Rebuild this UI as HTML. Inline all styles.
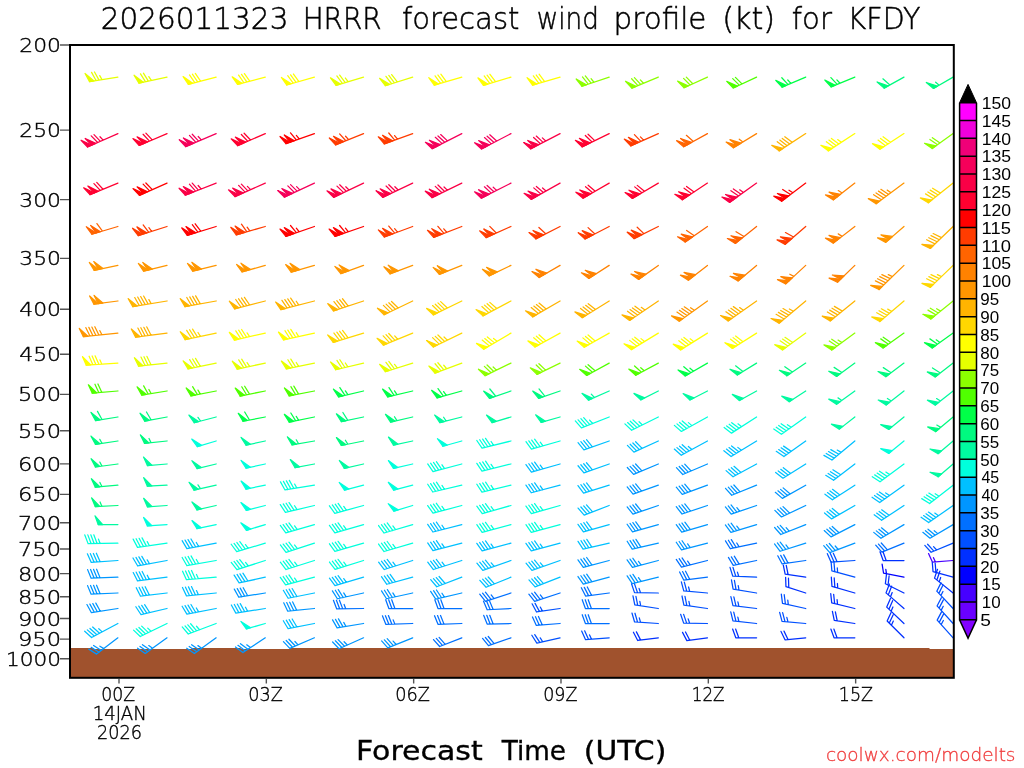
<!DOCTYPE html><html><head><meta charset="utf-8"><title>HRRR wind profile KFDY</title>
<style>html,body{margin:0;padding:0;background:#fff;}svg{display:block;}</style></head><body>
<svg width="1024" height="768" viewBox="0 0 1024 768">
<rect width="1024" height="768" fill="#fff"/>
<path d="M70.5 648H93.3V649H191.6V648H240.8V649H289.9V648H929.5V649H953V677.8H70.5Z" fill="#a0522d"/>
<g fill="none" stroke-width="1.25" stroke-linecap="round" stroke-linejoin="round">
<path d="M117.9 77.1L89.55 81.59M102 79.62L99.77 75.6M99.04 80.09L94.53 71.95M96.07 80.56L91.56 72.42" stroke="#e6ff00"/><path d="M94 80.89L89.55 81.59L85.04 73.46Z" fill="#e6ff00" stroke="#e6ff00"/>
<path d="M167.03 77.1L138.96 83.07M151.28 80.45L148.84 76.55M148.35 81.07L143.42 73.18M145.41 81.69L140.48 73.81" stroke="#e6ff00"/><path d="M143.36 82.13L138.96 83.07L134.03 75.18Z" fill="#e6ff00" stroke="#e6ff00"/>
<path d="M216.16 77.1L188.37 84.29M200.57 81.13L195.31 73.47M197.67 81.88L192.4 74.22M194.76 82.63L189.5 74.97" stroke="#ffff00"/><path d="M192.73 83.16L188.37 84.29L183.11 76.62Z" fill="#ffff00" stroke="#ffff00"/>
<path d="M265.29 77.1L237.54 84.43M249.72 81.21L244.42 73.58M246.82 81.98L241.52 74.34M243.92 82.75L238.62 75.11" stroke="#ffff00"/><path d="M241.89 83.28L237.54 84.43L232.23 76.79Z" fill="#ffff00" stroke="#ffff00"/>
<path d="M314.42 77.1L286.83 85.01M298.94 81.54L293.48 74.01M296.06 82.36L290.59 74.84M293.18 83.19L287.71 75.67" stroke="#ffff00"/><path d="M291.16 83.77L286.83 85.01L281.37 77.49Z" fill="#ffff00" stroke="#ffff00"/>
<path d="M363.55 77.1L336.05 85.3M348.12 81.7L345.38 78.01M345.25 82.56L339.7 75.09M342.37 83.41L336.83 75.95" stroke="#e6ff00"/><path d="M340.36 84.01L336.05 85.3L330.5 77.83Z" fill="#e6ff00" stroke="#e6ff00"/>
<path d="M412.68 77.1L385.31 85.73M397.33 81.94L391.66 74.56M394.46 82.84L388.8 75.47M391.6 83.75L385.94 76.37" stroke="#e6ff00"/><path d="M389.6 84.38L385.31 85.73L379.65 78.35Z" fill="#e6ff00" stroke="#e6ff00"/>
<path d="M461.81 77.1L434.28 85.2M446.37 81.65L440.85 74.16M443.49 82.49L437.97 75.01M440.61 83.34L435.09 75.85" stroke="#ffff00"/><path d="M438.59 83.93L434.28 85.2L428.76 77.72Z" fill="#ffff00" stroke="#ffff00"/>
<path d="M510.94 77.1L483.45 85.35M495.52 81.73L489.96 74.27M492.65 82.59L487.09 75.13M489.77 83.45L484.21 75.99" stroke="#ffff00"/><path d="M487.76 84.05L483.45 85.35L477.89 77.89Z" fill="#ffff00" stroke="#ffff00"/>
<path d="M560.07 77.1L532.54 85.2M544.63 81.65L539.11 74.16M541.75 82.49L536.23 75.01M538.87 83.34L533.35 75.85" stroke="#ffff00"/><path d="M536.85 83.93L532.54 85.2L527.02 77.72Z" fill="#ffff00" stroke="#ffff00"/>
<path d="M609.2 77.1L582 86.25M593.94 82.24L591.07 78.64M591.1 83.19L585.3 75.92M588.25 84.15L582.45 76.88" stroke="#8cff00"/><path d="M586.26 84.82L582 86.25L576.2 78.99Z" fill="#8cff00" stroke="#8cff00"/>
<path d="M658.33 77.1L631.83 88.13M643.47 83.29L640.35 79.9M640.7 84.44L634.4 77.59M637.93 85.59L631.63 78.75" stroke="#8cff00"/><path d="M635.99 86.4L631.83 88.13L625.54 81.28Z" fill="#8cff00" stroke="#8cff00"/>
<path d="M707.46 77.1L684.07 87.76M692.81 83.78L686.29 77.14M690.08 85.02L683.56 78.39" stroke="#8cff00"/><path d="M688.17 85.89L684.07 87.76L677.56 81.12Z" fill="#8cff00" stroke="#8cff00"/>
<path d="M756.59 77.1L733.3 87.96M742 83.9L735.42 77.33M739.28 85.17L732.7 78.6" stroke="#50ff00"/><path d="M737.38 86.06L733.3 87.96L726.72 81.39Z" fill="#50ff00" stroke="#50ff00"/>
<path d="M805.72 77.1L782.06 87.14M790.9 83.39L787.76 80.03M788.14 84.56L781.8 77.76" stroke="#00ff48"/><path d="M786.21 85.38L782.06 87.14L775.72 80.34Z" fill="#00ff48" stroke="#00ff48"/>
<path d="M854.85 77.1L831.11 86.93M839.98 83.26L836.87 79.87M837.2 84.41L830.92 77.55" stroke="#00ff48"/><path d="M835.26 85.21L831.11 86.93L824.82 80.08Z" fill="#00ff48" stroke="#00ff48"/>
<path d="M903.98 77.1L884.13 88.11M889.9 84.91L882.88 78.8" stroke="#00fa80"/><path d="M888.06 85.92L884.13 88.11L877.11 82Z" fill="#00fa80" stroke="#00fa80"/>
<path d="M953.11 77.1L933.45 88.45M939.17 85.15L935.64 82.19" stroke="#00fa80"/><path d="M937.35 86.2L933.45 88.45L926.33 82.47Z" fill="#00fa80" stroke="#00fa80"/>
<path d="M117.9 133.6L87.52 147M103.17 140.1L99.99 136.78M100.42 141.31L93.99 134.6M97.68 142.52L91.24 135.81" stroke="#fa0046"/><path d="M95.76 143.37L91.64 145.18L85.2 138.47Z" fill="#fa0046" stroke="#fa0046"/><path d="M91.64 145.18L87.52 147L81.09 140.29Z" fill="#fa0046" stroke="#fa0046"/>
<path d="M167.03 133.6L139.25 145.45M152.22 139.92L145.87 133.13M149.46 141.09L143.11 134.3" stroke="#ff0030"/><path d="M147.53 141.92L143.39 143.68L137.04 136.89Z" fill="#ff0030" stroke="#ff0030"/><path d="M143.39 143.68L139.25 145.45L132.9 138.66Z" fill="#ff0030" stroke="#ff0030"/>
<path d="M216.16 133.6L185.6 146.57M201.34 139.89L198.2 136.53M198.58 141.06L192.24 134.26M195.82 142.24L189.47 135.43" stroke="#f5005a"/><path d="M193.88 143.06L189.74 144.81L183.4 138.01Z" fill="#f5005a" stroke="#f5005a"/><path d="M189.74 144.81L185.6 146.57L179.26 139.77Z" fill="#f5005a" stroke="#f5005a"/>
<path d="M265.29 133.6L237.59 145.64M250.53 140.02L244.12 133.27M247.77 141.22L241.37 134.47" stroke="#ff0030"/><path d="M245.85 142.05L241.72 143.85L235.32 137.1Z" fill="#ff0030" stroke="#ff0030"/><path d="M241.72 143.85L237.59 145.64L231.19 138.9Z" fill="#ff0030" stroke="#ff0030"/>
<path d="M314.42 133.6L285.95 143.68M299.24 138.97L296.32 135.42M296.42 139.98L290.5 132.8" stroke="#ff0000"/><path d="M294.44 140.68L290.19 142.18L284.28 135Z" fill="#ff0000" stroke="#ff0000"/><path d="M290.19 142.18L285.95 143.68L280.04 136.5Z" fill="#ff0000" stroke="#ff0000"/>
<path d="M363.55 133.6L335.55 144.91M348.62 139.63L345.54 136.21M345.84 140.75L339.62 133.84" stroke="#ff3c00"/><path d="M343.89 141.54L339.72 143.23L333.5 136.32Z" fill="#ff3c00" stroke="#ff3c00"/><path d="M339.72 143.23L335.55 144.91L329.33 138Z" fill="#ff3c00" stroke="#ff3c00"/>
<path d="M412.68 133.6L384.3 143.93M397.55 139.11L394.59 135.58M394.73 140.13L388.75 133.01" stroke="#ff3c00"/><path d="M392.76 140.85L388.53 142.39L382.55 135.27Z" fill="#ff3c00" stroke="#ff3c00"/><path d="M388.53 142.39L384.3 143.93L378.32 136.8Z" fill="#ff3c00" stroke="#ff3c00"/>
<path d="M461.81 133.6L432.23 148.67M447.46 140.91L440.66 134.57M444.79 142.27L437.99 135.93M442.12 143.63L435.32 137.29" stroke="#f5005a"/><path d="M440.25 144.59L436.24 146.63L429.44 140.29Z" fill="#f5005a" stroke="#f5005a"/><path d="M436.24 146.63L432.23 148.67L425.43 142.33Z" fill="#f5005a" stroke="#f5005a"/>
<path d="M510.94 133.6L481.52 148.98M496.67 141.06L489.8 134.79M494.01 142.45L487.15 136.18M491.35 143.84L484.49 137.57" stroke="#f5005a"/><path d="M489.49 144.81L485.51 146.9L478.64 140.63Z" fill="#f5005a" stroke="#f5005a"/><path d="M485.51 146.9L481.52 148.98L474.65 142.71Z" fill="#f5005a" stroke="#f5005a"/>
<path d="M560.07 133.6L530.57 148.83M545.76 140.98L542.38 137.86M543.1 142.36L536.26 136.05M540.43 143.74L533.6 137.43" stroke="#fa0046"/><path d="M538.57 144.7L534.57 146.76L527.73 140.46Z" fill="#fa0046" stroke="#fa0046"/><path d="M534.57 146.76L530.57 148.83L523.73 142.52Z" fill="#fa0046" stroke="#fa0046"/>
<path d="M609.2 133.6L582.06 146.84M594.73 140.66L588.04 134.2M592.03 141.97L585.34 135.51" stroke="#ff0030"/><path d="M590.15 142.89L586.1 144.87L579.41 138.41Z" fill="#ff0030" stroke="#ff0030"/><path d="M586.1 144.87L582.06 146.84L575.37 140.38Z" fill="#ff0030" stroke="#ff0030"/>
<path d="M658.33 133.6L630.74 145.88M643.62 140.15L640.43 136.84M640.88 141.37L634.42 134.68" stroke="#ff3c00"/><path d="M638.96 142.22L634.85 144.05L628.39 137.36Z" fill="#ff3c00" stroke="#ff3c00"/><path d="M634.85 144.05L630.74 145.88L624.28 139.19Z" fill="#ff3c00" stroke="#ff3c00"/>
<path d="M707.46 133.6L683.67 146.79M693.38 141.41L686.36 135.3" stroke="#ff6400"/><path d="M691.54 142.42L687.61 144.61L680.59 138.5Z" fill="#ff6400" stroke="#ff6400"/><path d="M687.61 144.61L683.67 146.79L676.65 140.69Z" fill="#ff6400" stroke="#ff6400"/>
<path d="M756.59 133.6L733.4 147.81M742.86 142.01L739.26 139.15" stroke="#ff8200"/><path d="M741.07 143.11L737.24 145.46L729.96 139.67Z" fill="#ff8200" stroke="#ff8200"/><path d="M737.24 145.46L733.4 147.81L726.12 142.02Z" fill="#ff8200" stroke="#ff8200"/>
<path d="M805.72 133.6L779.13 150.87M792.22 142.37L784.79 136.77M789.7 144L782.27 138.41M787.19 145.64L779.76 140.04M784.67 147.27L777.24 141.67" stroke="#ffb400"/><path d="M782.91 148.41L779.13 150.87L771.71 145.27Z" fill="#ffb400" stroke="#ffb400"/>
<path d="M854.85 133.6L828.26 150.87M841.35 142.37L837.67 139.6M838.83 144L831.4 138.41M836.32 145.64L828.89 140.04M833.8 147.27L826.37 141.67" stroke="#ffff00"/><path d="M832.04 148.41L828.26 150.87L820.84 145.27Z" fill="#ffff00" stroke="#ffff00"/>
<path d="M903.98 133.6L879.91 149.23M890.48 142.37L883.05 136.77M887.96 144L880.53 138.41M885.45 145.64L878.02 140.04" stroke="#ffff00"/><path d="M883.68 146.78L879.91 149.23L872.48 143.63Z" fill="#ffff00" stroke="#ffff00"/>
<path d="M953.11 133.6L932.21 148.56M940.02 142.97L932.35 137.72M937.58 144.72L929.91 139.46" stroke="#8cff00"/><path d="M935.87 145.94L932.21 148.56L924.54 143.31Z" fill="#8cff00" stroke="#8cff00"/>
<path d="M117.9 183.1L90 194.66M103.03 189.26L96.74 182.4M100.25 190.41L93.97 183.55" stroke="#ff0030"/><path d="M98.31 191.21L94.16 192.93L87.87 186.08Z" fill="#ff0030" stroke="#ff0030"/><path d="M94.16 192.93L90 194.66L83.72 187.8Z" fill="#ff0030" stroke="#ff0030"/>
<path d="M167.03 183.1L139.44 195.38M152.32 189.65L145.86 182.96M149.58 190.87L143.12 184.18" stroke="#ff0000"/><path d="M147.66 191.72L143.55 193.55L137.09 186.86Z" fill="#ff0000" stroke="#ff0000"/><path d="M143.55 193.55L139.44 195.38L132.98 188.69Z" fill="#ff0000" stroke="#ff0000"/>
<path d="M216.16 183.1L185.25 195.21M201.17 188.97L198.13 185.52M198.38 190.07L192.23 183.09M195.58 191.16L189.43 184.19" stroke="#fa0046"/><path d="M193.63 191.93L189.44 193.57L183.29 186.6Z" fill="#fa0046" stroke="#fa0046"/><path d="M189.44 193.57L185.25 195.21L179.1 188.24Z" fill="#fa0046" stroke="#fa0046"/>
<path d="M265.29 183.1L234.96 196.6M250.58 189.65L247.39 186.34M247.84 190.87L241.38 184.18M245.1 192.09L238.64 185.4" stroke="#fa0046"/><path d="M243.18 192.94L239.07 194.77L232.61 188.08Z" fill="#fa0046" stroke="#fa0046"/><path d="M239.07 194.77L234.96 196.6L228.5 189.91Z" fill="#fa0046" stroke="#fa0046"/>
<path d="M314.42 183.1L284.33 197.13M299.83 189.9L296.58 186.65M297.11 191.17L290.53 184.6M294.39 192.44L287.81 185.86" stroke="#f5005a"/><path d="M292.49 193.33L288.41 195.23L281.83 188.65Z" fill="#f5005a" stroke="#f5005a"/><path d="M288.41 195.23L284.33 197.13L277.75 190.55Z" fill="#f5005a" stroke="#f5005a"/>
<path d="M363.55 183.1L333.58 197.39M349.02 190.03L345.74 186.81M346.31 191.32L339.68 184.8M343.6 192.61L336.97 186.1" stroke="#fa0046"/><path d="M341.71 193.52L337.65 195.46L331.01 188.94Z" fill="#fa0046" stroke="#fa0046"/><path d="M337.65 195.46L333.58 197.39L326.95 190.87Z" fill="#fa0046" stroke="#fa0046"/>
<path d="M412.68 183.1L382.69 197.34M398.14 190.01L394.86 186.78M395.43 191.29L388.8 184.76M392.72 192.58L386.09 186.05" stroke="#fa0046"/><path d="M390.82 193.48L386.75 195.41L380.13 188.88Z" fill="#fa0046" stroke="#fa0046"/><path d="M386.75 195.41L382.69 197.34L376.07 190.81Z" fill="#fa0046" stroke="#fa0046"/>
<path d="M461.81 183.1L431.97 197.65M447.34 190.16L444.03 186.96M444.64 191.47L437.95 185.01M441.95 192.79L435.26 186.33" stroke="#fa0046"/><path d="M440.06 193.71L436.01 195.68L429.32 189.22Z" fill="#fa0046" stroke="#fa0046"/><path d="M436.01 195.68L431.97 197.65L425.28 191.19Z" fill="#fa0046" stroke="#fa0046"/>
<path d="M510.94 183.1L481.36 198.17M496.59 190.41L493.23 187.27M493.92 191.77L487.12 185.43M491.25 193.13L484.45 186.79" stroke="#f5005a"/><path d="M489.38 194.09L485.37 196.13L478.57 189.79Z" fill="#f5005a" stroke="#f5005a"/><path d="M485.37 196.13L481.36 198.17L474.56 191.83Z" fill="#f5005a" stroke="#f5005a"/>
<path d="M560.07 183.1L531.15 199.4M546.04 191L542.55 188.01M543.43 192.48L536.37 186.42M540.82 193.95L533.75 187.9" stroke="#fa0046"/><path d="M538.99 194.98L535.07 197.19L528 191.14Z" fill="#fa0046" stroke="#fa0046"/><path d="M535.07 197.19L531.15 199.4L524.08 193.35Z" fill="#fa0046" stroke="#fa0046"/>
<path d="M609.2 183.1L583.05 198.2M595.26 191.15L588.13 185.17M592.66 192.65L585.53 186.67" stroke="#ff0030"/><path d="M590.84 193.7L586.94 195.95L579.82 189.97Z" fill="#ff0030" stroke="#ff0030"/><path d="M586.94 195.95L583.05 198.2L575.92 192.22Z" fill="#ff0030" stroke="#ff0030"/>
<path d="M658.33 183.1L632.31 198.43M644.46 191.27L637.28 185.36M641.87 192.79L634.7 186.88" stroke="#ff0030"/><path d="M640.06 193.86L636.19 196.14L629.01 190.23Z" fill="#ff0030" stroke="#ff0030"/><path d="M636.19 196.14L632.31 198.43L625.13 192.51Z" fill="#ff0030" stroke="#ff0030"/>
<path d="M707.46 183.1L682.31 199.81M694.05 192.01L686.56 186.49M691.55 193.67L684.07 188.15" stroke="#ff0030"/><path d="M689.8 194.83L686.05 197.32L678.57 191.8Z" fill="#ff0030" stroke="#ff0030"/><path d="M686.05 197.32L682.31 199.81L674.82 194.29Z" fill="#ff0030" stroke="#ff0030"/>
<path d="M756.59 183.1L729.56 202.38M743.48 192.45L739.69 189.84M741.04 194.19L733.38 188.92M738.6 195.93L730.93 190.67" stroke="#fa0046"/><path d="M736.89 197.15L733.22 199.77L725.56 194.5Z" fill="#fa0046" stroke="#fa0046"/><path d="M733.22 199.77L729.56 202.38L721.9 197.11Z" fill="#fa0046" stroke="#fa0046"/>
<path d="M805.72 183.1L781.6 201.27M792.86 192.79L789 190.28M790.47 194.59L782.67 189.53" stroke="#ff0000"/><path d="M788.79 195.86L785.2 198.57L777.4 193.5Z" fill="#ff0000" stroke="#ff0000"/><path d="M785.2 198.57L781.6 201.27L773.8 196.21Z" fill="#ff0000" stroke="#ff0000"/>
<path d="M854.85 183.1L833.42 199.85M842.16 193.01L838.26 190.57" stroke="#ff8200"/><path d="M840.51 194.31L836.96 197.08L829.08 192.15Z" fill="#ff8200" stroke="#ff8200"/><path d="M836.96 197.08L833.42 199.85L825.53 194.92Z" fill="#ff8200" stroke="#ff8200"/>
<path d="M903.98 183.1L876.09 203.74M891.04 192.68L887.2 190.14M888.63 194.46L880.87 189.33M886.21 196.25L878.46 191.11M883.8 198.03L876.05 192.9M881.39 199.81L873.64 194.68" stroke="#ff9600"/><path d="M879.7 201.06L876.09 203.74L868.33 198.61Z" fill="#ff9600" stroke="#ff9600"/>
<path d="M953.11 183.1L928.3 202.83M940.51 193.12L932.58 188.26M938.16 194.99L930.23 190.13M935.81 196.86L927.88 192M933.47 198.73L925.54 193.87" stroke="#ffd700"/><path d="M931.82 200.03L928.3 202.83L920.37 197.97Z" fill="#ffd700" stroke="#ffd700"/>
<path d="M117.9 226.5L91.82 234.23M102.46 231.07L96.93 223.6" stroke="#ff6400"/><path d="M100.45 231.67L96.13 232.95L90.6 225.47Z" fill="#ff6400" stroke="#ff6400"/><path d="M96.13 232.95L91.82 234.23L86.29 226.75Z" fill="#ff6400" stroke="#ff6400"/>
<path d="M167.03 226.5L138.24 235.63M151.68 231.37L148.88 227.72M148.82 232.28L143.15 224.91" stroke="#ff3c00"/><path d="M146.82 232.91L142.53 234.27L136.86 226.9Z" fill="#ff3c00" stroke="#ff3c00"/><path d="M142.53 234.27L138.24 235.63L132.57 228.26Z" fill="#ff3c00" stroke="#ff3c00"/>
<path d="M216.16 226.5L187.28 235.33M200.76 231.21L195.17 223.78M197.89 232.08L192.3 224.66" stroke="#ff0000"/><path d="M195.89 232.7L191.58 234.01L185.99 226.59Z" fill="#ff0000" stroke="#ff0000"/><path d="M191.58 234.01L187.28 235.33L181.68 227.9Z" fill="#ff0000" stroke="#ff0000"/>
<path d="M265.29 226.5L236.26 234.82M249.81 230.94L247.11 227.22M246.93 231.76L241.46 224.24" stroke="#ff3c00"/><path d="M244.91 232.34L240.59 233.58L235.12 226.06Z" fill="#ff3c00" stroke="#ff3c00"/><path d="M240.59 233.58L236.26 234.82L230.79 227.3Z" fill="#ff3c00" stroke="#ff3c00"/>
<path d="M314.42 226.5L285.87 236.33M299.2 231.74L296.3 228.17M296.36 232.72L290.51 225.49" stroke="#ff0000"/><path d="M294.38 233.4L290.12 234.87L284.27 227.64Z" fill="#ff0000" stroke="#ff0000"/><path d="M290.12 234.87L285.87 236.33L280.01 229.1Z" fill="#ff0000" stroke="#ff0000"/>
<path d="M363.55 226.5L335 236.33M348.33 231.74L345.43 228.17M345.49 232.72L339.64 225.49" stroke="#ff0000"/><path d="M343.51 233.4L339.25 234.87L333.4 227.64Z" fill="#ff0000" stroke="#ff0000"/><path d="M339.25 234.87L335 236.33L329.14 229.1Z" fill="#ff0000" stroke="#ff0000"/>
<path d="M412.68 226.5L384.37 237.03M397.59 232.11L394.61 228.61M394.78 233.16L388.75 226.08" stroke="#ff3c00"/><path d="M392.81 233.89L388.59 235.46L382.56 228.38Z" fill="#ff3c00" stroke="#ff3c00"/><path d="M388.59 235.46L384.37 237.03L378.35 229.94Z" fill="#ff3c00" stroke="#ff3c00"/>
<path d="M461.81 226.5L433.62 237.32M446.78 232.27L443.76 228.8M443.98 233.34L437.88 226.33" stroke="#ff3c00"/><path d="M442.02 234.1L437.82 235.71L431.72 228.69Z" fill="#ff3c00" stroke="#ff3c00"/><path d="M437.82 235.71L433.62 237.32L427.51 230.3Z" fill="#ff3c00" stroke="#ff3c00"/>
<path d="M510.94 226.5L486.09 237.56M496.23 233.05L489.77 226.36" stroke="#ff3c00"/><path d="M494.31 233.9L490.2 235.73L483.74 229.04Z" fill="#ff3c00" stroke="#ff3c00"/><path d="M490.2 235.73L486.09 237.56L479.63 230.87Z" fill="#ff3c00" stroke="#ff3c00"/>
<path d="M560.07 226.5L535.83 238.85M545.72 233.81L538.92 227.47" stroke="#ff3c00"/><path d="M543.85 234.76L539.84 236.81L533.04 230.46Z" fill="#ff3c00" stroke="#ff3c00"/><path d="M539.84 236.81L535.83 238.85L529.03 232.51Z" fill="#ff3c00" stroke="#ff3c00"/>
<path d="M609.2 226.5L585.07 239.06M594.92 233.93L588.06 227.65" stroke="#ff3c00"/><path d="M593.06 234.9L589.06 236.98L582.21 230.7Z" fill="#ff3c00" stroke="#ff3c00"/><path d="M589.06 236.98L585.07 239.06L578.22 232.78Z" fill="#ff3c00" stroke="#ff3c00"/>
<path d="M658.33 226.5L633.97 238.59M643.91 233.66L637.17 227.25" stroke="#ff3c00"/><path d="M642.03 234.59L638 236.59L631.26 230.18Z" fill="#ff3c00" stroke="#ff3c00"/><path d="M638 236.59L633.97 238.59L627.23 232.18Z" fill="#ff3c00" stroke="#ff3c00"/>
<path d="M707.46 226.5L685.18 242.1M694.27 235.73L686.65 230.4" stroke="#ff6400"/><path d="M692.55 236.94L688.87 239.52L681.25 234.19Z" fill="#ff6400" stroke="#ff6400"/><path d="M688.87 239.52L685.18 242.1L677.56 236.77Z" fill="#ff6400" stroke="#ff6400"/>
<path d="M756.59 226.5L735.3 243.43M743.99 236.52L736.06 231.66" stroke="#ff6400"/><path d="M742.35 237.83L738.82 240.63L730.9 235.77Z" fill="#ff6400" stroke="#ff6400"/><path d="M738.82 240.63L735.3 243.43L727.37 238.57Z" fill="#ff6400" stroke="#ff6400"/>
<path d="M805.72 226.5L785.19 244.34M793.57 237.06L785.44 232.55" stroke="#ff3c00"/><path d="M791.98 238.44L788.59 241.39L780.45 236.88Z" fill="#ff3c00" stroke="#ff3c00"/><path d="M788.59 241.39L785.19 244.34L777.06 239.84Z" fill="#ff3c00" stroke="#ff3c00"/>
<path d="M854.85 226.5L833.33 243.13M842.11 236.35L838.22 233.89" stroke="#ff8200"/><path d="M840.45 237.63L836.89 240.38L829.03 235.41Z" fill="#ff8200" stroke="#ff8200"/><path d="M836.89 240.38L833.33 243.13L825.47 238.16Z" fill="#ff8200" stroke="#ff8200"/>
<path d="M903.98 226.5L885.72 242.38" stroke="#ff9600"/><path d="M892.51 236.47L889.11 239.42L880.98 234.92Z" fill="#ff9600" stroke="#ff9600"/><path d="M889.11 239.42L885.72 242.38L877.58 237.87Z" fill="#ff9600" stroke="#ff9600"/>
<path d="M953.11 226.5L930.23 248.44M941.49 237.64L933.15 233.54M939.32 239.72L930.98 235.61M937.16 241.8L928.81 237.69M934.99 243.87L926.65 239.77" stroke="#ffb400"/><path d="M933.48 245.33L930.23 248.44L921.89 244.33Z" fill="#ffb400" stroke="#ffb400"/>
<path d="M117.9 265.4L94.21 270.35" stroke="#ff9600"/><path d="M103.02 268.51L98.62 269.43L93.72 261.52Z" fill="#ff9600" stroke="#ff9600"/><path d="M98.62 269.43L94.21 270.35L89.31 262.44Z" fill="#ff9600" stroke="#ff9600"/>
<path d="M167.03 265.4L143.54 271.21" stroke="#ff9600"/><path d="M152.28 269.05L147.91 270.13L142.72 262.41Z" fill="#ff9600" stroke="#ff9600"/><path d="M147.91 270.13L143.54 271.21L138.35 263.49Z" fill="#ff9600" stroke="#ff9600"/>
<path d="M216.16 265.4L192.66 271.17" stroke="#ff9600"/><path d="M201.4 269.03L197.03 270.1L191.86 262.37Z" fill="#ff9600" stroke="#ff9600"/><path d="M197.03 270.1L192.66 271.17L187.49 263.44Z" fill="#ff9600" stroke="#ff9600"/>
<path d="M265.29 265.4L241.99 271.95" stroke="#ff9600"/><path d="M250.66 269.51L246.32 270.73L240.9 263.18Z" fill="#ff9600" stroke="#ff9600"/><path d="M246.32 270.73L241.99 271.95L236.57 264.4Z" fill="#ff9600" stroke="#ff9600"/>
<path d="M314.42 265.4L291.16 272.07" stroke="#ff9600"/><path d="M299.81 269.59L295.48 270.83L290.02 263.31Z" fill="#ff9600" stroke="#ff9600"/><path d="M295.48 270.83L291.16 272.07L285.69 264.55Z" fill="#ff9600" stroke="#ff9600"/>
<path d="M363.55 265.4L340.78 273.6" stroke="#ff9600"/><path d="M349.25 270.55L345.01 272.07L339.06 264.93Z" fill="#ff9600" stroke="#ff9600"/><path d="M345.01 272.07L340.78 273.6L334.83 266.45Z" fill="#ff9600" stroke="#ff9600"/>
<path d="M412.68 265.4L390 273.84" stroke="#ff9600"/><path d="M398.43 270.7L394.22 272.27L388.19 265.18Z" fill="#ff9600" stroke="#ff9600"/><path d="M394.22 272.27L390 273.84L383.97 266.75Z" fill="#ff9600" stroke="#ff9600"/>
<path d="M461.81 265.4L439.34 274.39" stroke="#ff9600"/><path d="M447.7 271.04L443.52 272.72L437.32 265.78Z" fill="#ff9600" stroke="#ff9600"/><path d="M443.52 272.72L439.34 274.39L433.14 267.45Z" fill="#ff9600" stroke="#ff9600"/>
<path d="M510.94 265.4L489.1 275.82" stroke="#ff9600"/><path d="M497.22 271.94L493.16 273.88L486.53 267.36Z" fill="#ff9600" stroke="#ff9600"/><path d="M493.16 273.88L489.1 275.82L482.46 269.3Z" fill="#ff9600" stroke="#ff9600"/>
<path d="M560.07 265.4L539.11 277.5" stroke="#ff8200"/><path d="M546.91 273L543.01 275.25L535.89 269.27Z" fill="#ff8200" stroke="#ff8200"/><path d="M543.01 275.25L539.11 277.5L531.99 271.52Z" fill="#ff8200" stroke="#ff8200"/>
<path d="M609.2 265.4L588.81 278.44" stroke="#ff8200"/><path d="M596.39 273.59L592.6 276.01L585.22 270.37Z" fill="#ff8200" stroke="#ff8200"/><path d="M592.6 276.01L588.81 278.44L581.42 272.79Z" fill="#ff8200" stroke="#ff8200"/>
<path d="M658.33 265.4L638.58 279.38" stroke="#ff8200"/><path d="M645.92 274.18L642.25 276.78L634.61 271.49Z" fill="#ff8200" stroke="#ff8200"/><path d="M642.25 276.78L638.58 279.38L630.93 274.09Z" fill="#ff8200" stroke="#ff8200"/>
<path d="M707.46 265.4L688.31 280.2" stroke="#ff8200"/><path d="M695.43 274.7L691.87 277.45L684.01 272.48Z" fill="#ff8200" stroke="#ff8200"/><path d="M691.87 277.45L688.31 280.2L680.45 275.23Z" fill="#ff8200" stroke="#ff8200"/>
<path d="M756.59 265.4L738.05 280.96" stroke="#ff8200"/><path d="M744.95 275.17L741.5 278.06L733.44 273.41Z" fill="#ff8200" stroke="#ff8200"/><path d="M741.5 278.06L738.05 280.96L730 276.31Z" fill="#ff8200" stroke="#ff8200"/>
<path d="M805.72 265.4L785.76 283.88M793.91 276.34L789.82 274.24" stroke="#ff8200"/><path d="M792.37 277.77L789.06 280.82L780.79 276.57Z" fill="#ff8200" stroke="#ff8200"/><path d="M789.06 280.82L785.76 283.88L777.49 279.63Z" fill="#ff8200" stroke="#ff8200"/>
<path d="M854.85 265.4L837.44 282.21" stroke="#ff8200"/><path d="M843.92 275.96L840.68 279.08L832.32 275.01Z" fill="#ff8200" stroke="#ff8200"/><path d="M840.68 279.08L837.44 282.21L829.08 278.13Z" fill="#ff8200" stroke="#ff8200"/>
<path d="M903.98 265.4L879.02 289.5M892.4 276.58L888.26 274.57M890.24 278.67L881.88 274.59M888.08 280.75L879.72 276.68M885.92 282.84L877.57 278.76M883.77 284.92L875.41 280.84" stroke="#ff9600"/><path d="M882.26 286.38L879.02 289.5L870.66 285.43Z" fill="#ff9600" stroke="#ff9600"/>
<path d="M953.11 265.4L930.31 287.42M941.53 276.58L937.39 274.57M939.37 278.67L931.01 274.59M937.21 280.75L928.85 276.68M935.05 282.84L926.7 278.76" stroke="#ffd700"/><path d="M933.54 284.29L930.31 287.42L921.95 283.34Z" fill="#ffd700" stroke="#ffd700"/>
<path d="M117.9 301L93.91 304.2" stroke="#ff9600"/><path d="M102.83 303.01L98.37 303.61L94.06 295.36Z" fill="#ff9600" stroke="#ff9600"/><path d="M98.37 303.61L93.91 304.2L89.6 295.96Z" fill="#ff9600" stroke="#ff9600"/>
<path d="M167.03 301L132.81 306.73M151.15 303.66L148.89 299.65M148.19 304.15L143.61 296.06M145.23 304.65L140.65 296.55M142.27 305.14L137.69 297.05M139.32 305.64L134.74 297.54" stroke="#ffb400"/><path d="M137.24 305.98L132.81 306.73L128.23 298.63Z" fill="#ffb400" stroke="#ffb400"/>
<path d="M216.16 301L184.97 306.67M200.32 303.88L195.63 295.85M197.37 304.42L192.68 296.39M194.42 304.95L189.72 296.92M191.46 305.49L186.77 297.46" stroke="#ffb400"/><path d="M189.4 305.86L184.97 306.67L180.28 298.64Z" fill="#ffb400" stroke="#ffb400"/>
<path d="M265.29 301L234.57 308.83M249.69 304.98L244.45 297.29M246.78 305.72L241.54 298.03M243.87 306.46L238.63 298.78M240.97 307.2L235.73 299.52" stroke="#ffb400"/><path d="M238.93 307.72L234.57 308.83L229.33 301.15Z" fill="#ffb400" stroke="#ffb400"/>
<path d="M314.42 301L280.83 309.69M298.83 305.03L296.23 301.24M295.93 305.78L290.66 298.12M293.02 306.53L287.76 298.87M290.12 307.28L284.85 299.62M287.22 308.04L281.95 300.37" stroke="#ffb400"/><path d="M285.18 308.56L280.83 309.69L275.56 302.02Z" fill="#ffb400" stroke="#ffb400"/>
<path d="M363.55 301L333.45 310.95M348.26 306.06L342.5 298.76M345.42 307L339.65 299.7M342.57 307.94L336.8 300.64M339.72 308.88L333.96 301.58" stroke="#ffb400"/><path d="M337.73 309.54L333.45 310.95L327.69 303.66Z" fill="#ffb400" stroke="#ffb400"/>
<path d="M412.68 301L384.12 314.75M398.17 307.98L391.52 301.49M395.47 309.28L388.81 302.79M392.77 310.58L386.11 304.09M390.06 311.88L383.41 305.39" stroke="#ffb400"/><path d="M388.17 312.8L384.12 314.75L377.46 308.25Z" fill="#ffb400" stroke="#ffb400"/>
<path d="M461.81 301L433.32 314.9M447.34 308.06L440.65 301.6M444.64 309.37L437.95 302.91M441.95 310.69L435.26 304.23M439.25 312L432.56 305.54" stroke="#ffd700"/><path d="M437.36 312.92L433.32 314.9L426.63 308.44Z" fill="#ffd700" stroke="#ffd700"/>
<path d="M510.94 301L482.95 315.88M496.72 308.56L489.81 302.34M494.08 309.97L487.16 303.74M491.43 311.38L484.52 305.15M488.78 312.78L481.87 306.56" stroke="#ffd700"/><path d="M486.92 313.77L482.95 315.88L476.04 309.66Z" fill="#ffd700" stroke="#ffd700"/>
<path d="M560.07 301L532.62 316.85M546.13 309.05L539 303.07M543.53 310.55L536.4 304.57M540.93 312.05L533.81 306.07M538.33 313.55L531.21 307.57" stroke="#ffb400"/><path d="M536.51 314.6L532.62 316.85L525.49 310.87Z" fill="#ffb400" stroke="#ffb400"/>
<path d="M609.2 301L582.26 317.7M595.52 309.48L588.21 303.73M592.97 311.06L585.66 305.31M590.42 312.65L583.11 306.89M587.87 314.23L580.56 308.48" stroke="#ffb400"/><path d="M586.08 315.33L582.26 317.7L574.95 311.95Z" fill="#ffb400" stroke="#ffb400"/>
<path d="M658.33 301L629.56 320.4M644.98 310L641.26 307.3M642.5 311.68L634.97 306.21M640.01 313.36L632.48 307.89M637.52 315.04L630 309.57M635.03 316.71L627.51 311.25" stroke="#ffb400"/><path d="M633.29 317.89L629.56 320.4L622.04 314.94Z" fill="#ffb400" stroke="#ffb400"/>
<path d="M707.46 301L679.21 321.15M694.35 310.35L690.56 307.74M691.91 312.09L684.25 306.82M689.47 313.83L681.8 308.57M687.03 315.58L679.36 310.31M684.58 317.32L676.92 312.05" stroke="#ff9600"/><path d="M682.87 318.54L679.21 321.15L671.55 315.88Z" fill="#ff9600" stroke="#ff9600"/>
<path d="M756.59 301L728.17 320.9M743.4 310.23L739.63 307.6M740.94 311.96L733.33 306.62M738.49 313.68L730.87 308.34M736.03 315.4L728.41 310.06M733.57 317.12L725.95 311.78" stroke="#ffb400"/><path d="M731.85 318.32L728.17 320.9L720.55 315.57Z" fill="#ffb400" stroke="#ffb400"/>
<path d="M805.72 301L779.06 323.21M793.35 311.31L789.37 308.99M791.05 313.23L783.01 308.55M788.74 315.15L780.7 310.47M786.44 317.07L778.4 312.39M784.13 318.99L776.09 314.31" stroke="#ffb400"/><path d="M782.52 320.33L779.06 323.21L771.02 318.53Z" fill="#ffb400" stroke="#ffb400"/>
<path d="M854.85 301L830.21 320.95M842.34 311.13L834.37 306.34M840.01 313.02L832.03 308.23M837.68 314.91L829.7 310.12M835.34 316.8L827.37 312.01" stroke="#ffb400"/><path d="M833.71 318.12L830.21 320.95L822.24 316.16Z" fill="#ffb400" stroke="#ffb400"/>
<path d="M903.98 301L879.84 321.55M891.72 311.43L887.72 309.16M889.43 313.38L881.35 308.79M887.15 315.32L879.06 310.73M884.87 317.27L876.78 312.67" stroke="#ffd700"/><path d="M883.27 318.63L879.84 321.55L871.75 316.95Z" fill="#ffd700" stroke="#ffd700"/>
<path d="M953.11 301L930.81 319.06M940.6 311.13L936.65 308.76M938.27 313.02L930.29 308.23M935.94 314.91L927.96 310.12" stroke="#8cff00"/><path d="M934.3 316.23L930.81 319.06L922.83 314.27Z" fill="#8cff00" stroke="#8cff00"/>
<path d="M117.9 333.1L83.39 336.73M101.89 334.78L99.87 330.65M98.9 335.1L94.83 326.74M95.92 335.41L91.84 327.05M92.94 335.72L88.86 327.36M89.95 336.04L85.88 327.68" stroke="#ff9600"/><path d="M87.87 336.26L83.39 336.73L79.31 328.37Z" fill="#ff9600" stroke="#ff9600"/>
<path d="M167.03 333.1L135.59 337.18M151.06 335.17L146.78 326.92M148.09 335.56L143.81 327.3M145.11 335.95L140.83 327.69M142.14 336.33L137.86 328.08" stroke="#ffb400"/><path d="M140.06 336.6L135.59 337.18L131.31 328.93Z" fill="#ffb400" stroke="#ffb400"/>
<path d="M216.16 333.1L185.14 339.64M200.41 336.42L197.98 332.51M197.47 337.04L192.56 329.14M194.53 337.66L189.62 329.76M191.6 338.28L186.68 330.38" stroke="#ffd700"/><path d="M189.54 338.71L185.14 339.64L180.23 331.74Z" fill="#ffd700" stroke="#ffd700"/>
<path d="M265.29 333.1L234.38 340.12M249.59 336.67L247.1 332.8M246.66 337.33L241.63 329.51M243.74 338L238.7 330.18M240.81 338.66L235.78 330.84" stroke="#ffff00"/><path d="M238.77 339.13L234.38 340.12L229.34 332.31Z" fill="#ffff00" stroke="#ffff00"/>
<path d="M314.42 333.1L283.47 339.96M298.7 336.58L296.23 332.71M295.77 337.23L290.78 329.39M292.84 337.88L287.85 330.04M289.91 338.53L284.92 330.69" stroke="#ffff00"/><path d="M287.86 338.99L283.47 339.96L278.47 332.12Z" fill="#ffff00" stroke="#ffff00"/>
<path d="M363.55 333.1L333.24 342.37M348.15 337.81L342.56 330.38M345.28 338.68L339.69 331.26M342.42 339.56L336.82 332.13M339.55 340.44L333.95 333.01" stroke="#ffd700"/><path d="M337.54 341.05L333.24 342.37L327.64 334.94Z" fill="#ffd700" stroke="#ffd700"/>
<path d="M412.68 333.1L383.37 345.18M397.79 339.24L394.69 335.84M395.02 340.38L388.75 333.51M392.25 341.52L385.98 334.65M389.47 342.66L383.2 335.8" stroke="#ffd700"/><path d="M387.53 343.47L383.37 345.18L377.1 338.31Z" fill="#ffd700" stroke="#ffd700"/>
<path d="M461.81 333.1L433.32 347M447.34 340.16L444.03 336.96M444.64 341.47L437.95 335.01M441.95 342.79L435.26 336.33M439.25 344.1L432.56 337.64" stroke="#ffd700"/><path d="M437.36 345.02L433.32 347L426.63 340.54Z" fill="#ffd700" stroke="#ffd700"/>
<path d="M510.94 333.1L483.71 349.33M497.11 341.34L493.55 338.44M494.53 342.88L487.33 337M491.96 344.42L484.75 338.54M489.38 345.95L482.17 340.07" stroke="#ffff00"/><path d="M487.58 347.03L483.71 349.33L476.5 343.45Z" fill="#ffff00" stroke="#ffff00"/>
<path d="M560.07 333.1L534.97 347.01M545.99 340.91L538.97 334.8M543.36 342.36L536.35 336.26M540.74 343.81L533.72 337.71" stroke="#ffff00"/><path d="M538.9 344.83L534.97 347.01L527.95 340.91Z" fill="#ffff00" stroke="#ffff00"/>
<path d="M609.2 333.1L584.2 347.19M595.17 341L588.11 334.95M592.56 342.48L585.5 336.42M589.95 343.95L582.88 337.9" stroke="#ffff00"/><path d="M588.12 344.98L584.2 347.19L577.13 341.14Z" fill="#ffff00" stroke="#ffff00"/>
<path d="M658.33 333.1L631.27 349.62M644.59 341.49L640.99 338.62M642.03 343.05L634.76 337.25M639.47 344.61L632.2 338.81M636.91 346.18L629.64 340.38" stroke="#ffff00"/><path d="M635.11 347.27L631.27 349.62L624 343.81Z" fill="#ffff00" stroke="#ffff00"/>
<path d="M707.46 333.1L680.58 349.9M693.81 341.63L690.18 338.8M691.26 343.22L683.93 337.5M688.72 344.81L681.39 339.09M686.17 346.4L678.85 340.68" stroke="#ffff00"/><path d="M684.39 347.51L680.58 349.9L673.25 344.17Z" fill="#ffff00" stroke="#ffff00"/>
<path d="M756.59 333.1L732.33 348.44M742.98 341.7L735.62 336.02M740.45 343.31L733.09 337.62M737.91 344.91L730.55 339.22" stroke="#ffff00"/><path d="M736.13 346.03L732.33 348.44L724.97 342.75Z" fill="#ffff00" stroke="#ffff00"/>
<path d="M805.72 333.1L782.44 349.89M792.66 342.52L784.97 337.29M790.23 344.27L782.54 339.05M787.8 346.03L780.1 340.8" stroke="#e6ff00"/><path d="M786.09 347.26L782.44 349.89L774.75 344.66Z" fill="#e6ff00" stroke="#e6ff00"/>
<path d="M854.85 333.1L831.72 350.09M841.87 342.63L838.05 340.08M839.46 344.41L831.72 339.25M837.04 346.18L829.3 341.02" stroke="#8cff00"/><path d="M835.35 347.43L831.72 350.09L823.98 344.93Z" fill="#8cff00" stroke="#8cff00"/>
<path d="M903.98 333.1L883.03 347.99M890.86 342.43L883.2 337.15M888.41 344.16L880.76 338.88" stroke="#50ff00"/><path d="M886.7 345.38L883.03 347.99L875.38 342.71Z" fill="#50ff00" stroke="#50ff00"/>
<path d="M953.11 333.1L932.16 347.99M939.99 342.43L936.2 339.81M937.54 344.16L929.89 338.88" stroke="#00ff48"/><path d="M935.83 345.38L932.16 347.99L924.51 342.71Z" fill="#00ff48" stroke="#00ff48"/>
<path d="M117.9 363.1L86.27 365.15M101.83 364.14L99.98 359.93M98.84 364.33L95.1 355.82M95.85 364.53L92.11 356.01M92.85 364.72L89.11 356.2" stroke="#ffff00"/><path d="M90.76 364.86L86.27 365.15L82.53 356.63Z" fill="#ffff00" stroke="#ffff00"/>
<path d="M167.03 363.1L138.49 366.1M151.02 364.78L146.94 356.42M148.03 365.1L143.96 356.74M145.05 365.41L140.97 357.05" stroke="#e6ff00"/><path d="M142.96 365.63L138.49 366.1L134.41 357.74Z" fill="#e6ff00" stroke="#e6ff00"/>
<path d="M216.16 363.1L188.04 368.82M200.38 366.31L195.52 358.38M197.44 366.91L192.58 358.98M194.5 367.51L189.64 359.58" stroke="#e6ff00"/><path d="M192.45 367.92L188.04 368.82L183.18 360.89Z" fill="#e6ff00" stroke="#e6ff00"/>
<path d="M265.29 363.1L237.22 369.07M249.54 366.45L247.1 362.55M246.61 367.07L241.68 359.18M243.67 367.69L238.74 359.81" stroke="#e6ff00"/><path d="M241.62 368.13L237.22 369.07L232.29 361.18Z" fill="#e6ff00" stroke="#e6ff00"/>
<path d="M314.42 363.1L286.33 368.97M298.66 366.39L296.24 362.48M295.72 367.01L290.82 359.1M292.79 367.62L287.89 359.72" stroke="#e6ff00"/><path d="M290.73 368.05L286.33 368.97L281.43 361.07Z" fill="#e6ff00" stroke="#e6ff00"/>
<path d="M363.55 363.1L335.63 369.75M347.89 366.83L345.36 362.99M344.97 367.53L339.85 359.76M342.05 368.22L336.93 360.46" stroke="#e6ff00"/><path d="M340.01 368.71L335.63 369.75L330.51 361.99Z" fill="#e6ff00" stroke="#e6ff00"/>
<path d="M412.68 363.1L385.31 371.73M397.33 367.94L394.52 364.29M394.46 368.84L388.8 361.47M391.6 369.75L385.94 362.37" stroke="#e6ff00"/><path d="M389.6 370.38L385.31 371.73L379.65 364.35Z" fill="#e6ff00" stroke="#e6ff00"/>
<path d="M461.81 363.1L434.93 373.15M446.73 368.74L443.74 365.24M443.92 369.79L437.88 362.72M441.11 370.84L435.07 363.77" stroke="#e6ff00"/><path d="M439.14 371.58L434.93 373.15L428.89 366.08Z" fill="#e6ff00" stroke="#e6ff00"/>
<path d="M510.94 363.1L485.14 375.68M496.47 370.16L493.16 366.96M493.77 371.47L487.08 365.01M491.08 372.79L484.39 366.33" stroke="#8cff00"/><path d="M489.19 373.71L485.14 375.68L478.45 369.22Z" fill="#8cff00" stroke="#8cff00"/>
<path d="M560.07 363.1L536.97 374.37M545.6 370.16L538.91 363.7M542.9 371.47L536.21 365.01" stroke="#8cff00"/><path d="M541.02 372.39L536.97 374.37L530.28 367.91Z" fill="#8cff00" stroke="#8cff00"/>
<path d="M609.2 363.1L586.66 375.44M595.08 370.83L588.09 364.69M592.45 372.27L585.46 366.13" stroke="#50ff00"/><path d="M590.6 373.28L586.66 375.44L579.67 369.3Z" fill="#50ff00" stroke="#50ff00"/>
<path d="M658.33 363.1L635.72 375.32M644.17 370.76L640.73 367.7M641.53 372.18L634.57 366.01" stroke="#50ff00"/><path d="M639.68 373.18L635.72 375.32L628.77 369.15Z" fill="#50ff00" stroke="#50ff00"/>
<path d="M707.46 363.1L685.2 375.95M693.52 371.15L689.99 368.19M690.92 372.65L683.79 366.67" stroke="#00ff48"/><path d="M689.1 373.7L685.2 375.95L678.08 369.97Z" fill="#00ff48" stroke="#00ff48"/>
<path d="M756.59 363.1L737.28 375.03M742.89 371.56L735.59 365.8" stroke="#00fa80"/><path d="M741.11 372.66L737.28 375.03L729.98 369.26Z" fill="#00fa80" stroke="#00fa80"/>
<path d="M805.72 363.1L786.9 375.79M792.37 372.1L784.85 366.64" stroke="#00fa80"/><path d="M790.63 373.28L786.9 375.79L779.38 370.33Z" fill="#00fa80" stroke="#00fa80"/>
<path d="M854.85 363.1L836.49 376.44M841.82 372.56L834.11 367.36" stroke="#00fa80"/><path d="M840.13 373.8L836.49 376.44L828.78 371.24Z" fill="#00fa80" stroke="#00fa80"/>
<path d="M903.98 363.1L885.78 376.67M891.07 372.72L883.3 367.62" stroke="#00fa80"/><path d="M889.39 373.98L885.78 376.67L878.01 371.56Z" fill="#00fa80" stroke="#00fa80"/>
<path d="M953.11 363.1L935.13 376.95M940.35 372.92L932.5 367.94" stroke="#00fa80"/><path d="M938.69 374.2L935.13 376.95L927.27 371.97Z" fill="#00fa80" stroke="#00fa80"/>
<path d="M117.9 391L92.3 393.24M101.86 392.4L97.93 383.97M98.87 392.66L94.94 384.24" stroke="#50ff00"/><path d="M96.78 392.85L92.3 393.24L88.37 384.81Z" fill="#50ff00" stroke="#50ff00"/>
<path d="M167.03 391L141.65 395.02M151.13 393.52L148.9 389.5M148.17 393.99L143.66 385.85" stroke="#50ff00"/><path d="M146.09 394.32L141.65 395.02L137.14 386.89Z" fill="#50ff00" stroke="#50ff00"/>
<path d="M216.16 391L190.93 395.9M200.36 394.07L197.99 390.13M197.41 394.64L192.62 386.67" stroke="#50ff00"/><path d="M195.35 395.05L190.93 395.9L186.14 387.93Z" fill="#50ff00" stroke="#50ff00"/>
<path d="M265.29 391L240.09 396.04M249.5 394.15L244.67 386.21M246.56 394.74L241.73 386.8" stroke="#50ff00"/><path d="M244.5 395.15L240.09 396.04L235.26 388.09Z" fill="#50ff00" stroke="#50ff00"/>
<path d="M314.42 391L289.19 395.9M298.62 394.07L293.83 386.1M295.67 394.64L290.88 386.67" stroke="#50ff00"/><path d="M293.61 395.05L289.19 395.9L284.4 387.93Z" fill="#50ff00" stroke="#50ff00"/>
<path d="M363.55 391L338.54 396.91M347.88 394.7L345.36 390.86M344.96 395.39L339.86 387.62" stroke="#00ff48"/><path d="M342.92 395.88L338.54 396.91L333.43 389.14Z" fill="#00ff48" stroke="#00ff48"/>
<path d="M412.68 391L387.66 396.87M397.01 394.68L394.49 390.83M394.08 395.36L388.99 387.58" stroke="#00ff48"/><path d="M392.04 395.84L387.66 396.87L382.57 389.09Z" fill="#00ff48" stroke="#00ff48"/>
<path d="M461.81 391L437.06 397.91M446.3 395.33L443.63 391.59M443.41 396.14L438 388.57" stroke="#00ff48"/><path d="M441.39 396.7L437.06 397.91L431.64 390.35Z" fill="#00ff48" stroke="#00ff48"/>
<path d="M510.94 391L489.48 398.39M495.72 396.24L489.86 389.01" stroke="#00fa80"/><path d="M493.73 396.93L489.48 398.39L483.62 391.16Z" fill="#00fa80" stroke="#00fa80"/>
<path d="M560.07 391L538.58 398.32M544.83 396.19L539 388.94" stroke="#00fa80"/><path d="M542.84 396.87L538.58 398.32L532.75 391.07Z" fill="#00fa80" stroke="#00fa80"/>
<path d="M609.2 391L588.41 400.12M594.46 397.47L591.28 394.15" stroke="#00faa0"/><path d="M592.53 398.32L588.41 400.12L581.99 393.4Z" fill="#00faa0" stroke="#00faa0"/>
<path d="M658.33 391L640.72 399.82" stroke="#00faa0"/><path d="M644.74 397.81L640.72 399.82L633.96 393.43Z" fill="#00faa0" stroke="#00faa0"/>
<path d="M707.46 391L689.91 399.94" stroke="#00faa0"/><path d="M693.92 397.9L689.91 399.94L683.11 393.6Z" fill="#00faa0" stroke="#00faa0"/>
<path d="M756.59 391L739.36 400.55" stroke="#00faa0"/><path d="M743.3 398.37L739.36 400.55L732.34 394.45Z" fill="#00faa0" stroke="#00faa0"/>
<path d="M805.72 391L789.2 401.73" stroke="#00faa0"/><path d="M792.97 399.28L789.2 401.73L781.77 396.13Z" fill="#00faa0" stroke="#00faa0"/>
<path d="M854.85 391L836.49 404.34M841.82 400.46L838.01 397.89" stroke="#00faa0"/><path d="M840.13 401.7L836.49 404.34L828.78 399.14Z" fill="#00faa0" stroke="#00faa0"/>
<path d="M903.98 391L886.09 404.98M891.29 400.91L887.39 398.47" stroke="#00faa0"/><path d="M889.64 402.21L886.09 404.98L878.21 400.05Z" fill="#00faa0" stroke="#00faa0"/>
<path d="M953.11 391L935.32 405.1M940.49 401L936.57 398.59" stroke="#00faa0"/><path d="M938.85 402.3L935.32 405.1L927.4 400.23Z" fill="#00faa0" stroke="#00faa0"/>
<path d="M117.9 417L95.47 420.51M101.99 419.49L97.5 411.35" stroke="#00fa80"/><path d="M99.92 419.82L95.47 420.51L90.98 412.37Z" fill="#00fa80" stroke="#00fa80"/>
<path d="M167.03 417L144.72 421.18M151.2 419.96L146.47 411.96" stroke="#00fa80"/><path d="M149.14 420.35L144.72 421.18L139.98 413.17Z" fill="#00fa80" stroke="#00fa80"/>
<path d="M216.16 417L194.2 422.76M200.59 421.09L197.97 417.3" stroke="#00faa0"/><path d="M198.56 421.62L194.2 422.76L188.91 415.11Z" fill="#00faa0" stroke="#00faa0"/>
<path d="M265.29 417L242.99 421.25M249.48 420.02L244.71 412.03" stroke="#00ff48"/><path d="M247.41 420.41L242.99 421.25L238.23 413.27Z" fill="#00ff48" stroke="#00ff48"/>
<path d="M314.42 417L289.25 422.21M298.65 420.26L296.24 416.35M295.72 420.87L290.83 412.96" stroke="#00ff48"/><path d="M293.66 421.3L289.25 422.21L284.37 414.3Z" fill="#00ff48" stroke="#00ff48"/>
<path d="M363.55 417L341.35 421.72M347.8 420.35L342.87 412.46" stroke="#00fa80"/><path d="M345.75 420.78L341.35 421.72L336.42 413.83Z" fill="#00fa80" stroke="#00fa80"/>
<path d="M412.68 417L390.56 422.11M396.99 420.62L394.49 416.76" stroke="#00fa80"/><path d="M394.95 421.09L390.56 422.11L385.5 414.31Z" fill="#00fa80" stroke="#00fa80"/>
<path d="M461.81 417L439.83 422.68M446.22 421.03L443.62 417.24" stroke="#00faa0"/><path d="M444.19 421.56L439.83 422.68L434.57 415.02Z" fill="#00faa0" stroke="#00faa0"/>
<path d="M510.94 417L492.03 422.53" stroke="#00faa0"/><path d="M496.35 421.27L492.03 422.53L486.53 415.03Z" fill="#00faa0" stroke="#00faa0"/>
<path d="M560.07 417L541.12 422.4" stroke="#00faa0"/><path d="M545.45 421.16L541.12 422.4L535.67 414.86Z" fill="#00faa0" stroke="#00faa0"/>
<path d="M609.2 417L581.45 427.87M592.63 423.49L589.59 420.04M589.83 424.59L583.68 417.61M587.04 425.68L580.89 418.71M584.25 426.78L578.1 419.8M581.45 427.87L575.3 420.9" stroke="#00ffdc"/>
<path d="M658.33 417L631.66 430.3M642.4 424.94L639.06 421.78M639.72 426.28L632.97 419.88M637.03 427.62L630.28 421.22M634.35 428.96L627.6 422.56M631.66 430.3L624.91 423.89" stroke="#00ffdc"/>
<path d="M707.46 417L681.4 431.45M691.89 425.63L688.42 422.61M689.27 427.08L682.25 420.98M686.64 428.54L679.63 422.44M684.02 429.99L677 423.89M681.4 431.45L674.38 425.35" stroke="#00ffdc"/>
<path d="M756.59 417L731.54 433.14M741.63 426.64L737.96 423.86M739.11 428.27L731.7 422.64M736.58 429.89L729.18 424.27M734.06 431.52L726.66 425.9M731.54 433.14L724.13 427.52" stroke="#00ffdc"/>
<path d="M805.72 417L781.43 434.26M791.21 427.31L787.42 424.7M788.77 429.05L781.11 423.77M786.32 430.79L778.66 425.51M783.87 432.52L776.22 427.24M781.43 434.26L773.77 428.98" stroke="#00ffdc"/>
<path d="M854.85 417L839.33 429.13" stroke="#00faa0"/><path d="M842.87 426.36L839.33 429.13L831.44 424.2Z" fill="#00faa0" stroke="#00faa0"/>
<path d="M903.98 417L888.67 429.4" stroke="#00faa0"/><path d="M892.17 426.57L888.67 429.4L880.7 424.61Z" fill="#00faa0" stroke="#00faa0"/>
<path d="M953.11 417L935.72 431.59M940.78 427.35L936.79 425.05" stroke="#00fa80"/><path d="M939.17 428.7L935.72 431.59L927.67 426.94Z" fill="#00fa80" stroke="#00fa80"/>
<path d="M117.9 441L95.44 444.32M101.97 443.35L99.78 439.31" stroke="#00fa80"/><path d="M99.9 443.66L95.44 444.32L91.02 436.14Z" fill="#00fa80" stroke="#00fa80"/>
<path d="M167.03 441L144.45 443.29M151.01 442.63L149.01 438.49" stroke="#00fa80"/><path d="M148.92 442.84L144.45 443.29L140.4 434.92Z" fill="#00fa80" stroke="#00fa80"/>
<path d="M216.16 441L197.27 446.6" stroke="#00ffdc"/><path d="M201.59 445.32L197.27 446.6L191.74 439.12Z" fill="#00ffdc" stroke="#00ffdc"/>
<path d="M265.29 441L246.05 445.23" stroke="#00faa0"/><path d="M250.44 444.26L246.05 445.23L241.07 437.38Z" fill="#00faa0" stroke="#00faa0"/>
<path d="M314.42 441L292.06 444.94M298.56 443.8L296.26 439.81" stroke="#00fa80"/><path d="M296.5 444.16L292.06 444.94L287.41 436.89Z" fill="#00fa80" stroke="#00fa80"/>
<path d="M363.55 441L341.3 445.49M347.77 444.18L345.37 440.26" stroke="#00fa80"/><path d="M345.71 444.6L341.3 445.49L336.45 437.55Z" fill="#00fa80" stroke="#00fa80"/>
<path d="M412.68 441L393.4 445.03" stroke="#00faa0"/><path d="M397.8 444.11L393.4 445.03L388.5 437.12Z" fill="#00faa0" stroke="#00faa0"/>
<path d="M461.81 441L442.83 446.26" stroke="#00ffdc"/><path d="M447.16 445.06L442.83 446.26L437.43 438.69Z" fill="#00ffdc" stroke="#00ffdc"/>
<path d="M510.94 441L482.03 448.21M493.67 445.31L491.1 441.49M490.76 446.03L485.56 438.32M487.85 446.76L482.65 439.05M484.94 447.48L479.74 439.77M482.03 448.21L476.82 440.5" stroke="#00ffdc"/>
<path d="M560.07 441L531.42 449.21M542.96 445.91L540.26 442.18M540.08 446.73L534.61 439.21M537.19 447.56L531.73 440.04M534.31 448.39L528.84 440.86M531.42 449.21L525.96 441.69" stroke="#00ffdc"/>
<path d="M609.2 441L583.91 449.86M592.4 446.88L586.51 439.69M589.57 447.87L583.68 440.68M586.74 448.87L580.85 441.67M583.91 449.86L578.02 442.66" stroke="#00c0ff"/>
<path d="M658.33 441L633.92 452.07M642.12 448.35L635.61 441.71M639.39 449.59L632.88 442.95M636.66 450.83L630.15 444.19M633.92 452.07L627.42 445.43" stroke="#00c0ff"/>
<path d="M707.46 441L681.27 455.22M691.82 449.49L688.37 446.45M689.18 450.92L682.22 444.76M686.54 452.36L679.58 446.19M683.91 453.79L676.94 447.63M681.27 455.22L674.31 449.06" stroke="#00c0ff"/>
<path d="M756.59 441L731.13 456.48M741.38 450.25L737.79 447.37M738.82 451.81L731.56 445.99M736.25 453.36L729 447.55M733.69 454.92L726.43 449.11M731.13 456.48L723.87 450.67" stroke="#00c0ff"/>
<path d="M805.72 441L783.93 456.6M791.25 451.36L783.57 446.11M788.81 453.11L781.13 447.85M786.37 454.85L778.69 449.6M783.93 456.6L776.26 451.35" stroke="#00c0ff"/>
<path d="M854.85 441L831.96 460.08M841.17 452.39L837.2 450.08M838.87 454.31L830.83 449.64M836.56 456.23L828.53 451.56M834.26 458.15L826.22 453.48M831.96 460.08L823.92 455.4" stroke="#00c0ff"/>
<path d="M903.98 441L888.67 453.4" stroke="#00ffdc"/><path d="M892.17 450.57L888.67 453.4L880.7 448.61Z" fill="#00ffdc" stroke="#00ffdc"/>
<path d="M953.11 441L938.02 453.66" stroke="#00faa0"/><path d="M941.47 450.77L938.02 453.66L929.96 449.01Z" fill="#00faa0" stroke="#00faa0"/>
<path d="M117.9 464L95.4 467M101.94 466.13L99.81 462.05" stroke="#00fa80"/><path d="M99.86 466.41L95.4 467L91.09 458.76Z" fill="#00fa80" stroke="#00fa80"/>
<path d="M167.03 464L147.39 465.55" stroke="#00faa0"/><path d="M151.88 465.19L147.39 465.55L143.53 457.08Z" fill="#00faa0" stroke="#00faa0"/>
<path d="M216.16 464L196.99 468.53" stroke="#00faa0"/><path d="M201.37 467.5L196.99 468.53L191.88 460.76Z" fill="#00faa0" stroke="#00faa0"/>
<path d="M265.29 464L246.05 468.23" stroke="#00ffdc"/><path d="M250.44 467.26L246.05 468.23L241.07 460.38Z" fill="#00ffdc" stroke="#00ffdc"/>
<path d="M314.42 464L295.05 467.59" stroke="#00faa0"/><path d="M299.47 466.77L295.05 467.59L290.33 459.58Z" fill="#00faa0" stroke="#00faa0"/>
<path d="M363.55 464L344.33 468.33" stroke="#00faa0"/><path d="M348.72 467.34L344.33 468.33L339.31 460.5Z" fill="#00faa0" stroke="#00faa0"/>
<path d="M412.68 464L393.48 468.43" stroke="#00ffdc"/><path d="M397.87 467.42L393.48 468.43L388.42 460.63Z" fill="#00ffdc" stroke="#00ffdc"/>
<path d="M461.81 464L433 471.61M444.6 468.55L441.98 464.77M441.7 469.31L436.39 461.68M438.8 470.08L433.49 462.44M435.9 470.85L430.59 463.21M433 471.61L427.69 463.98" stroke="#00ffdc"/>
<path d="M510.94 464L481.99 471.06M493.65 468.22L491.09 464.39M490.73 468.93L485.57 461.19M487.82 469.64L482.66 461.9M484.9 470.35L479.74 462.61M481.99 471.06L476.83 463.32" stroke="#00ffdc"/>
<path d="M560.07 464L531.4 472.11M542.94 468.85L540.25 465.12M540.06 469.66L534.62 462.12M537.17 470.48L531.73 462.94M534.28 471.3L528.84 463.75M531.4 472.11L525.96 464.57" stroke="#00c0ff"/>
<path d="M609.2 464L583.94 472.95M592.42 469.94L586.51 462.77M589.59 470.94L583.68 463.77M586.77 471.94L580.85 464.77M583.94 472.95L578.02 465.77" stroke="#00c0ff"/>
<path d="M658.33 464L633.61 474.34M641.91 470.87L635.6 464.03M639.14 472.03L632.83 465.19M636.37 473.18L630.07 466.35M633.61 474.34L627.3 467.51" stroke="#0096ff"/>
<path d="M707.46 464L682.79 474.47M691.08 470.96L684.73 464.15M688.31 472.13L681.97 465.33M685.55 473.3L679.21 466.5M682.79 474.47L676.45 467.67" stroke="#0096ff"/>
<path d="M756.59 464L733.04 476.79M740.95 472.49L733.98 466.33M738.31 473.92L731.35 467.76M735.67 475.36L728.71 469.19M733.04 476.79L726.07 470.63" stroke="#00c0ff"/>
<path d="M805.72 464L782.99 478.2M790.62 473.43L783.3 467.71M788.08 475.02L780.75 469.3M785.54 476.61L778.21 470.89M782.99 478.2L775.66 472.48" stroke="#00c0ff"/>
<path d="M854.85 464L833.59 480.31M840.73 474.84L832.88 469.84M838.35 476.66L830.5 471.67M835.97 478.49L828.12 473.49M833.59 480.31L825.74 475.32" stroke="#00c0ff"/>
<path d="M903.98 464L880.06 481.77M889.69 474.61L885.85 472.08M887.28 476.4L879.52 471.28M884.87 478.19L877.11 473.07M882.46 479.98L874.7 474.86M880.06 481.77L872.29 476.65" stroke="#00ffdc"/>
<path d="M953.11 464L938.15 476.82" stroke="#00faa0"/><path d="M941.57 473.89L938.15 476.82L930.05 472.25Z" fill="#00faa0" stroke="#00faa0"/>
<path d="M117.9 485.2L95.29 487.18M101.86 486.6L99.92 482.43" stroke="#00fa80"/><path d="M99.77 486.79L95.29 487.18L91.36 478.75Z" fill="#00fa80" stroke="#00fa80"/>
<path d="M167.03 485.2L147.36 486.23" stroke="#00faa0"/><path d="M151.85 486L147.36 486.23L143.72 477.67Z" fill="#00faa0" stroke="#00faa0"/>
<path d="M216.16 485.2L194 490.11M200.44 488.68L197.97 484.81" stroke="#00faa0"/><path d="M198.39 489.14L194 490.11L189 482.27Z" fill="#00faa0" stroke="#00faa0"/>
<path d="M265.29 485.2L245.97 489.06" stroke="#00ffdc"/><path d="M250.38 488.18L245.97 489.06L241.14 481.11Z" fill="#00ffdc" stroke="#00ffdc"/>
<path d="M314.42 485.2L285 489.96M296.85 488.05L294.6 484.03M293.89 488.53L289.35 480.41M290.93 489.01L286.39 480.89M287.96 489.48L283.43 481.37M285 489.96L280.47 481.85" stroke="#00ffdc"/>
<path d="M363.55 485.2L344.48 490.13" stroke="#00ffdc"/><path d="M348.83 489.01L344.48 490.13L339.21 482.47Z" fill="#00ffdc" stroke="#00ffdc"/>
<path d="M412.68 485.2L393.59 490.07" stroke="#00ffdc"/><path d="M397.95 488.95L393.59 490.07L388.35 482.38Z" fill="#00ffdc" stroke="#00ffdc"/>
<path d="M461.81 485.2L432.8 492M444.48 489.26L441.96 485.42M441.56 489.95L436.47 482.17M438.64 490.63L433.55 482.85M435.72 491.32L430.63 483.54M432.8 492L427.71 484.22" stroke="#00ffdc"/>
<path d="M510.94 485.2L481.94 492.06M493.62 489.29L491.09 485.45M490.7 489.99L485.59 482.21M487.78 490.68L482.67 482.9M484.86 491.37L479.75 483.59M481.94 492.06L476.83 484.28" stroke="#00ffdc"/>
<path d="M560.07 485.2L531.25 492.76M542.85 489.72L540.23 485.94M539.95 490.48L534.66 482.83M537.05 491.24L531.75 483.59M534.15 492L528.85 484.35M531.25 492.76L525.95 485.12" stroke="#00c0ff"/>
<path d="M609.2 485.2L583.57 493.04M592.18 490.4L586.58 482.98M589.31 491.28L583.71 483.85M586.44 492.16L580.84 484.73M583.57 493.04L577.97 485.61" stroke="#00c0ff"/>
<path d="M658.33 485.2L633.07 494.15M641.55 491.14L635.64 483.97M638.72 492.14L632.81 484.97M635.9 493.14L629.98 485.97M633.07 494.15L627.15 486.97" stroke="#0096ff"/>
<path d="M707.46 485.2L682.26 494.32M690.72 491.26L684.76 484.12M687.9 492.28L681.94 485.15M685.08 493.3L679.12 486.17M682.26 494.32L676.29 487.19" stroke="#0096ff"/>
<path d="M756.59 485.2L731.74 495.24M740.09 491.87L733.86 484.96M737.3 492.99L731.08 486.08M734.52 494.12L728.3 487.2M731.74 495.24L725.52 488.33" stroke="#0096ff"/>
<path d="M805.72 485.2L782.37 498.36M790.21 493.94L783.15 487.89M787.6 495.41L780.54 489.36M784.99 496.88L777.92 490.83M782.37 498.36L775.31 492.3" stroke="#0096ff"/>
<path d="M854.85 485.2L832.37 499.8M839.92 494.89L832.49 489.3M837.41 496.53L829.98 490.93M834.89 498.16L827.46 492.57M832.37 499.8L824.95 494.2" stroke="#00c0ff"/>
<path d="M903.98 485.2L879.72 502.5M889.49 495.54L885.7 492.93M887.05 497.28L879.38 492.01M884.6 499.02L876.94 493.75M882.16 500.76L874.5 495.5M879.72 502.5L872.05 497.24" stroke="#00c0ff"/>
<path d="M953.11 485.2L929.63 503.55M939.08 496.16L935.18 493.72M936.72 498.01L928.83 493.08M934.36 499.85L926.47 494.92M931.99 501.7L924.1 496.77M929.63 503.55L921.74 498.62" stroke="#00ffdc"/>
<path d="M117.9 505.5L95.22 506.53M101.82 506.23L100.05 501.98" stroke="#00fa80"/><path d="M99.72 506.33L95.22 506.53L91.65 497.94Z" fill="#00fa80" stroke="#00fa80"/>
<path d="M167.03 505.5L147.37 506.77" stroke="#00faa0"/><path d="M151.86 506.48L147.37 506.77L143.63 498.26Z" fill="#00faa0" stroke="#00faa0"/>
<path d="M216.16 505.5L196.93 509.8" stroke="#00faa0"/><path d="M201.33 508.82L196.93 509.8L191.92 501.96Z" fill="#00faa0" stroke="#00faa0"/>
<path d="M265.29 505.5L246.18 510.27" stroke="#00ffdc"/><path d="M250.54 509.18L246.18 510.27L240.97 502.56Z" fill="#00ffdc" stroke="#00ffdc"/>
<path d="M314.42 505.5L285.43 512.41M297.1 509.63L294.57 505.78M294.19 510.32L289.07 502.56M291.27 511.02L286.15 503.25M288.35 511.71L283.23 503.95M285.43 512.41L280.31 504.64" stroke="#00ffdc"/>
<path d="M363.55 505.5L334.81 513.36M346.38 510.2L343.72 506.44M343.49 510.99L338.11 503.4M340.59 511.78L335.22 504.19M337.7 512.57L332.33 504.98M334.81 513.36L329.43 505.77" stroke="#00ffdc"/>
<path d="M412.68 505.5L393.82 511.19" stroke="#00ffdc"/><path d="M398.13 509.89L393.82 511.19L388.25 503.75Z" fill="#00ffdc" stroke="#00ffdc"/>
<path d="M461.81 505.5L433.03 513.21M444.62 510.11L441.98 506.34M441.72 510.88L436.38 503.27M438.82 511.66L433.49 504.04M435.92 512.44L430.59 504.82M433.03 513.21L427.69 505.59" stroke="#00ffdc"/>
<path d="M510.94 505.5L482.29 513.71M493.83 510.41L491.13 506.68M490.95 511.23L485.48 503.71M488.06 512.06L482.6 504.54M485.18 512.89L479.71 505.36M482.29 513.71L476.83 506.19" stroke="#00ffdc"/>
<path d="M560.07 505.5L531.4 513.61M542.94 510.35L540.25 506.62M540.06 511.16L534.62 503.62M537.17 511.98L531.73 504.44M534.28 512.8L528.84 505.25M531.4 513.61L525.96 506.07" stroke="#00ffdc"/>
<path d="M609.2 505.5L584.18 515.1M592.58 511.88L586.48 504.86M589.78 512.95L583.68 505.94M586.98 514.03L580.88 507.01M584.18 515.1L578.08 508.09" stroke="#00c0ff"/>
<path d="M658.33 505.5L632.96 514.14M641.48 511.24L635.65 503.99M638.64 512.2L632.81 504.96M635.8 513.17L629.97 505.92M632.96 514.14L627.13 506.89" stroke="#0096ff"/>
<path d="M707.46 505.5L682.04 514M690.58 511.15L684.79 503.87M687.73 512.1L681.95 504.82M684.89 513.05L679.1 505.77M682.04 514L676.26 506.73" stroke="#0096ff"/>
<path d="M756.59 505.5L731.22 514.14M739.74 511.24L736.86 507.65M736.9 512.2L731.07 504.96M734.06 513.17L728.23 505.92M731.22 514.14L725.39 506.89" stroke="#0096ff"/>
<path d="M805.72 505.5L781.49 516.95M789.63 513.11L783.02 506.57M786.92 514.39L780.3 507.85M784.2 515.67L777.59 509.13M781.49 516.95L774.88 510.41" stroke="#0096ff"/>
<path d="M854.85 505.5L831.64 518.9M839.43 514.4L832.31 508.42M836.84 515.9L829.71 509.92M834.24 517.4L827.11 511.42M831.64 518.9L824.52 512.92" stroke="#00c0ff"/>
<path d="M903.98 505.5L881.63 520.29M889.14 515.32L881.66 509.79M886.64 516.98L879.16 511.45M884.13 518.64L876.66 513.1M881.63 520.29L874.16 514.76" stroke="#00c0ff"/>
<path d="M953.11 505.5L928.7 522.59M938.53 515.71L934.76 513.07M936.07 517.43L928.45 512.1M933.61 519.15L926 513.82M931.16 520.87L923.54 515.54M928.7 522.59L921.08 517.26" stroke="#00c0ff"/>
<path d="M117.9 524.6L98.2 524.6" stroke="#00faa0"/><path d="M102.7 524.6L98.2 524.6L95.02 515.86Z" fill="#00faa0" stroke="#00faa0"/>
<path d="M167.03 524.6L147.38 525.97" stroke="#00ffdc"/><path d="M151.87 525.66L147.38 525.97L143.6 517.48Z" fill="#00ffdc" stroke="#00ffdc"/>
<path d="M216.16 524.6L196.86 528.53" stroke="#00ffdc"/><path d="M201.27 527.63L196.86 528.53L192 520.6Z" fill="#00ffdc" stroke="#00ffdc"/>
<path d="M265.29 524.6L246.43 530.29" stroke="#00ffdc"/><path d="M250.74 528.99L246.43 530.29L240.86 522.85Z" fill="#00ffdc" stroke="#00ffdc"/>
<path d="M314.42 524.6L285.8 532.91M297.33 529.57L294.61 525.85M294.45 530.4L288.95 522.9M291.57 531.24L286.07 523.74M288.68 532.08L283.19 524.57M285.8 532.91L280.31 525.41" stroke="#00ffdc"/>
<path d="M363.55 524.6L334.9 532.81M346.44 529.51L343.74 525.78M343.56 530.33L338.09 522.81M340.67 531.16L335.21 523.64M337.79 531.99L332.32 524.46M334.9 532.81L329.44 525.29" stroke="#00ffdc"/>
<path d="M412.68 524.6L384.09 533.01M395.6 529.63L392.87 525.92M392.73 530.47L387.21 522.99M389.85 531.32L384.33 523.83M386.97 532.17L381.45 524.68M384.09 533.01L378.57 525.53" stroke="#00ffdc"/>
<path d="M461.81 524.6L432.95 532.01M444.57 529.03L441.97 525.23M441.66 529.77L436.41 522.1M438.76 530.52L433.5 522.85M435.85 531.26L430.6 523.59M432.95 532.01L427.69 524.34" stroke="#00c0ff"/>
<path d="M510.94 524.6L482.16 532.31M493.75 529.21L491.11 525.44M490.85 529.98L485.51 522.37M487.95 530.76L482.62 523.14M485.05 531.54L479.72 523.92M482.16 532.31L476.82 524.69" stroke="#00ffdc"/>
<path d="M560.07 524.6L531.29 532.31M542.88 529.21L540.24 525.44M539.98 529.98L534.64 522.37M537.08 530.76L531.75 523.14M534.18 531.54L528.85 523.92M531.29 532.31L525.95 524.69" stroke="#00ffdc"/>
<path d="M609.2 524.6L583.41 531.9M592.07 529.45L586.63 521.9M589.19 530.26L583.75 522.72M586.3 531.08L580.86 523.54M583.41 531.9L577.97 524.35" stroke="#00c0ff"/>
<path d="M658.33 524.6L632.52 531.81M641.19 529.39L635.77 521.82M638.3 530.19L632.88 522.63M635.41 531L629.99 523.44M632.52 531.81L627.1 524.25" stroke="#0096ff"/>
<path d="M707.46 524.6L681.76 532.21M690.39 529.66L684.86 522.18M687.52 530.51L681.98 523.03M684.64 531.36L679.11 523.88M681.76 532.21L676.23 524.74" stroke="#0096ff"/>
<path d="M756.59 524.6L730.93 532.35M739.55 529.74L736.79 526.06M736.68 530.61L731.11 523.17M733.81 531.48L728.23 524.03M730.93 532.35L725.36 524.9" stroke="#0096ff"/>
<path d="M805.72 524.6L780.8 534.47M789.17 531.15L786.12 527.71M786.38 532.26L780.21 525.3M783.59 533.36L777.42 526.41M780.8 534.47L774.63 527.51" stroke="#0096ff"/>
<path d="M854.85 524.6L831.04 536.89M839.03 532.76L832.2 526.46M836.37 534.14L829.53 527.83M833.7 535.52L826.87 529.21M831.04 536.89L824.2 530.58" stroke="#0096ff"/>
<path d="M903.98 524.6L880.94 538.28M888.67 533.69L881.48 527.8M886.1 535.22L878.9 529.33M883.52 536.75L876.32 530.86M880.94 538.28L873.74 532.39" stroke="#0096ff"/>
<path d="M953.11 524.6L930.02 538.2M937.77 533.63L934.22 530.71M935.19 535.16L928.01 529.24M932.6 536.68L925.43 530.76M930.02 538.2L922.84 532.29" stroke="#0096ff"/>
<path d="M117.9 543.2L88.1 543.62M100.1 543.45L98.47 539.15M97.1 543.49L93.8 534.8M94.1 543.53L90.8 534.84M91.1 543.57L87.8 534.88M88.1 543.62L84.8 534.92" stroke="#00ffdc"/>
<path d="M167.03 543.2L137.52 547.35M149.4 545.68L147.24 541.62M146.43 546.09L142.07 537.88M143.46 546.51L139.1 538.3M140.49 546.93L136.12 538.72M137.52 547.35L133.15 539.14" stroke="#00ffdc"/>
<path d="M216.16 543.2L186.87 548.68M198.66 546.47L196.32 542.51M195.71 547.03L190.98 539.02M192.77 547.58L188.03 539.57M189.82 548.13L185.08 540.12M186.87 548.68L182.13 540.68" stroke="#00c0ff"/>
<path d="M265.29 543.2L236.73 551.71M248.23 548.29L245.49 544.59M245.36 549.14L239.81 541.68M242.48 550L236.94 542.53M239.61 550.86L234.06 543.39M236.73 551.71L231.19 544.25" stroke="#00ffdc"/>
<path d="M314.42 543.2L286.05 552.31M297.47 548.64L294.65 545.01M294.62 549.56L288.92 542.21M291.76 550.48L286.06 543.13M288.9 551.39L283.2 544.04M286.05 552.31L280.35 544.96" stroke="#00ffdc"/>
<path d="M363.55 543.2L334.88 551.31M346.42 548.05L343.73 544.32M343.54 548.86L338.1 541.32M340.65 549.68L335.21 542.14M337.76 550.5L332.32 542.95M334.88 551.31L329.44 543.77" stroke="#00ffdc"/>
<path d="M412.68 543.2L384.06 551.51M395.59 548.17L392.87 544.45M392.71 549L387.21 541.5M389.83 549.84L384.33 542.34M386.94 550.68L381.45 543.17M384.06 551.51L378.57 544.01" stroke="#00ffdc"/>
<path d="M461.81 543.2L432.95 550.61M444.57 547.63L441.97 543.83M441.66 548.37L436.41 540.7M438.76 549.12L433.5 541.45M435.85 549.86L430.6 542.19M432.95 550.61L427.69 542.94" stroke="#00c0ff"/>
<path d="M510.94 543.2L482.16 550.91M493.75 547.81L491.11 544.04M490.85 548.58L485.51 540.97M487.95 549.36L482.62 541.74M485.05 550.14L479.72 542.52M482.16 550.91L476.82 543.29" stroke="#00c0ff"/>
<path d="M560.07 543.2L531.29 550.91M542.88 547.81L540.24 544.04M539.98 548.58L534.64 540.97M537.08 549.36L531.75 541.74M534.18 550.14L528.85 542.52M531.29 550.91L525.95 543.29" stroke="#00c0ff"/>
<path d="M609.2 543.2L583.08 549.18M591.85 547.17L586.8 539.37M588.92 547.84L583.87 540.04M586 548.51L580.95 540.7M583.08 549.18L578.02 541.37" stroke="#00c0ff"/>
<path d="M658.33 543.2L632.19 549.09M640.97 547.11L635.94 539.29M638.04 547.77L633.01 539.95M635.11 548.43L630.09 540.61M632.19 549.09L627.16 541.27" stroke="#0096ff"/>
<path d="M707.46 543.2L681.51 549.91M690.23 547.66L687.62 543.87M687.32 548.41L682.05 540.74M684.42 549.16L679.15 541.49M681.51 549.91L676.25 542.25" stroke="#0096ff"/>
<path d="M756.59 543.2L730.37 548.73M739.17 546.87L736.74 542.97M736.24 547.49L731.32 539.59M733.3 548.11L728.39 540.21M730.37 548.73L725.45 540.83" stroke="#0070ff"/>
<path d="M805.72 543.2L780.16 551.26M788.74 548.55L785.94 544.9M785.88 549.45L780.22 542.08M783.02 550.36L777.36 542.98M780.16 551.26L774.5 543.88" stroke="#0096ff"/>
<path d="M854.85 543.2L829.78 552.67M838.2 549.49L835.2 546M835.39 550.55L829.33 543.5M832.59 551.61L826.52 544.56M829.78 552.67L823.72 545.62" stroke="#0096ff"/>
<path d="M903.98 543.2L881.91 552.12M887.48 549.87L881.25 542.96M884.69 550.99L878.47 544.08M881.91 552.12L875.69 545.2" stroke="#0070ff"/>
<path d="M953.11 543.2L931.11 552.27M936.65 549.98L933.55 546.59M933.88 551.13L927.61 544.26M931.11 552.27L924.83 545.4" stroke="#0050ff"/>
<path d="M117.9 560.5L91.17 562.37M100.14 561.74L96.36 553.25M97.15 561.95L93.37 553.45M94.16 562.16L90.38 553.66M91.17 562.37L87.38 553.87" stroke="#00c0ff"/>
<path d="M167.03 560.5L137.74 565.98M149.53 563.77L147.19 559.81M146.58 564.33L141.85 556.32M143.64 564.88L138.9 556.87M140.69 565.43L135.95 557.42M137.74 565.98L133 557.98" stroke="#00c0ff"/>
<path d="M216.16 560.5L186.79 565.52M198.61 563.5L196.34 559.5M195.66 564L191.05 555.93M192.7 564.51L188.09 556.43M189.74 565.02L185.14 556.94M186.79 565.52L182.18 557.44" stroke="#00ffdc"/>
<path d="M265.29 560.5L236.95 569.71M248.36 566L245.53 562.38M245.51 566.93L239.78 559.6M242.65 567.85L236.93 560.53M239.8 568.78L234.08 561.45M236.95 569.71L231.22 562.38" stroke="#00ffdc"/>
<path d="M314.42 560.5L286.01 569.51M297.45 565.88L294.65 562.24M294.59 566.79L288.92 559.42M291.73 567.7L286.06 560.33M288.87 568.6L283.2 561.24M286.01 569.51L280.34 562.14" stroke="#00ffdc"/>
<path d="M363.55 560.5L335.11 569.41M346.56 565.82L343.77 562.17M343.7 566.72L338.05 559.33M340.84 567.62L335.19 560.23M337.98 568.51L332.33 561.13M335.11 569.41L329.47 562.02" stroke="#00ffdc"/>
<path d="M412.68 560.5L384.27 569.51M395.71 565.88L392.91 562.24M392.85 566.79L387.18 559.42M389.99 567.7L384.32 560.33M387.13 568.6L381.46 561.24M384.27 569.51L378.6 562.14" stroke="#00c0ff"/>
<path d="M461.81 560.5L433.4 569.51M444.84 565.88L442.04 562.24M441.98 566.79L436.31 559.42M439.12 567.7L433.45 560.33M436.26 568.6L430.59 561.24M433.4 569.51L427.73 562.14" stroke="#00c0ff"/>
<path d="M510.94 560.5L482.81 570.35M494.14 566.38L491.23 562.82M491.31 567.37L485.42 560.18M488.48 568.37L482.59 561.17M485.65 569.36L479.76 562.16M482.81 570.35L476.92 563.15" stroke="#00c0ff"/>
<path d="M560.07 560.5L531.94 570.35M543.27 566.38L540.36 562.82M540.44 567.37L534.55 560.18M537.61 568.37L531.72 561.17M534.78 569.36L528.89 562.16M531.94 570.35L526.05 563.15" stroke="#00c0ff"/>
<path d="M609.2 560.5L583.31 567.44M592.01 565.11L586.67 557.49M589.11 565.88L583.77 558.27M586.21 566.66L580.88 559.04M583.31 567.44L577.98 559.82" stroke="#0096ff"/>
<path d="M658.33 560.5L632.44 567.44M641.14 565.11L638.5 561.34M638.24 565.88L632.9 558.27M635.34 566.66L630.01 559.04M632.44 567.44L627.11 559.82" stroke="#0096ff"/>
<path d="M707.46 560.5L681.49 567.12M690.21 564.9L687.62 561.1M687.3 565.64L682.06 557.95M684.4 566.38L679.16 558.7M681.49 567.12L676.25 559.44" stroke="#0070ff"/>
<path d="M756.59 560.5L733.28 565.33M739.16 564.11L734.27 556.2M736.22 564.72L731.34 556.81M733.28 565.33L728.4 557.41" stroke="#0070ff"/>
<path d="M805.72 560.5L782.18 563.98M788.11 563.1L783.69 554.92M785.14 563.54L780.72 555.36M782.18 563.98L777.75 555.8" stroke="#0070ff"/>
<path d="M854.85 560.5L831.11 562.16M837.09 561.74L833.31 553.25M834.1 561.95L830.32 553.45M831.11 562.16L827.33 553.66" stroke="#0050ff"/>
<path d="M903.98 560.5L883.18 560.5M886.18 560.5L883 551.76M883.18 560.5L880 551.76" stroke="#0030ff"/>
<path d="M953.11 560.5L932.37 562.06M935.36 561.83L933.47 557.64M932.37 562.06L928.54 553.58" stroke="#4600ff"/>
<path d="M117.9 577.2L91.12 578.23M100.11 577.88L96.6 569.27M97.12 578L93.6 569.39M94.12 578.11L90.6 569.5M91.12 578.23L87.61 569.62" stroke="#0096ff"/>
<path d="M167.03 577.2L137.45 580.83M149.36 579.37L147.27 575.27M146.39 579.73L142.16 571.45M143.41 580.1L139.19 571.81M140.43 580.47L136.21 572.18M137.45 580.83L133.23 572.55" stroke="#00c0ff"/>
<path d="M216.16 577.2L186.46 579.69M198.42 578.69L196.49 574.51M195.43 578.94L191.53 570.5M192.44 579.19L188.54 570.75M189.45 579.44L185.55 571M186.46 579.69L182.56 571.25" stroke="#00ffdc"/>
<path d="M265.29 577.2L239.12 582.95M247.91 581.02L242.92 573.17M244.98 581.67L239.99 573.81M242.05 582.31L237.06 574.46M239.12 582.95L234.13 575.1" stroke="#00c0ff"/>
<path d="M314.42 577.2L285.64 584.91M297.23 581.81L294.59 578.04M294.33 582.58L288.99 574.97M291.43 583.36L286.1 575.74M288.53 584.14L283.2 576.52M285.64 584.91L280.3 577.29" stroke="#00ffdc"/>
<path d="M363.55 577.2L334.98 585.66M346.48 582.26L343.75 578.56M343.61 583.11L338.07 575.63M340.73 583.96L335.2 576.48M337.85 584.81L332.32 577.34M334.98 585.66L329.45 578.19" stroke="#00c0ff"/>
<path d="M412.68 577.2L386.83 584.27M395.51 581.9L390.14 574.31M392.62 582.69L387.24 575.1M389.72 583.48L384.35 575.89M386.83 584.27L381.46 576.68" stroke="#00c0ff"/>
<path d="M461.81 577.2L436.76 586.72M445.17 583.52L439.09 576.48M442.37 584.59L436.29 577.55M439.56 585.65L433.48 578.61M436.76 586.72L430.68 579.68" stroke="#00c0ff"/>
<path d="M510.94 577.2L486.09 587.24M494.44 583.87L488.21 576.96M491.65 584.99L485.43 578.08M488.87 586.12L482.65 579.2M486.09 587.24L479.87 580.33" stroke="#00c0ff"/>
<path d="M560.07 577.2L535.1 586.94M543.49 583.67L537.35 576.68M540.69 584.76L534.55 577.77M537.9 585.85L531.76 578.86M535.1 586.94L528.96 579.95" stroke="#00c0ff"/>
<path d="M609.2 577.2L583.31 584.14M592.01 581.81L586.67 574.19M589.11 582.58L583.77 574.97M586.21 583.36L580.88 575.74M583.31 584.14L577.98 576.52" stroke="#0096ff"/>
<path d="M658.33 577.2L632.29 583.55M641.04 581.42L638.48 577.59M638.12 582.13L632.96 574.39M635.21 582.84L630.05 575.1M632.29 583.55L627.13 575.81" stroke="#0096ff"/>
<path d="M707.46 577.2L683.85 580.22M689.8 579.46L685.54 571.2M686.83 579.84L682.56 571.58M683.85 580.22L679.59 571.96" stroke="#0070ff"/>
<path d="M756.59 577.2L732.81 576.2M738.81 576.45L737.41 572.07M735.81 576.33L733 567.46M732.81 576.2L730 567.34" stroke="#0050ff"/>
<path d="M805.72 577.2L785.15 574.13M788.12 574.57L786.26 565.46M785.15 574.13L783.29 565.01" stroke="#0030ff"/>
<path d="M854.85 577.2L831.88 570.96M837.67 572.53L837.29 567.95M834.78 571.75L834 562.48M831.88 570.96L831.1 561.69" stroke="#0050ff"/>
<path d="M903.98 577.2L883.56 573.23M886.51 573.8L885.79 569.26M883.56 573.23L882.11 564.05" stroke="#0000ff"/>
<path d="M953.11 577.2L933.05 571.71M935.94 572.5L935.18 563.23M933.05 571.71L932.29 562.44" stroke="#0030ff"/>
<path d="M117.9 593L91.13 594.22M100.12 593.81L96.54 585.22M97.12 593.94L93.55 585.36M94.12 594.08L90.55 585.49M91.13 594.22L87.55 585.63" stroke="#0096ff"/>
<path d="M167.03 593L140.41 596.08M149.35 595.05L145.18 586.73M146.37 595.39L142.2 587.08M143.39 595.74L139.22 587.42M140.41 596.08L136.24 587.76" stroke="#00c0ff"/>
<path d="M216.16 593L186.5 595.86M198.44 594.71L196.46 590.55M195.46 594.99L191.45 586.6M192.47 595.28L188.47 586.89M189.48 595.57L185.48 587.17M186.5 595.86L182.49 587.46" stroke="#00c0ff"/>
<path d="M265.29 593L238.83 597.24M247.71 595.82L243.19 587.69M244.75 596.29L240.23 588.16M241.79 596.76L237.27 588.64M238.83 597.24L234.3 589.11" stroke="#0096ff"/>
<path d="M314.42 593L288.14 598.25M296.97 596.49L292.13 588.54M294.02 597.08L289.19 589.13M291.08 597.66L286.25 589.72M288.14 598.25L283.31 590.3" stroke="#00c0ff"/>
<path d="M363.55 593L337.38 598.75M346.17 596.82L343.7 592.94M343.24 597.47L338.25 589.61M340.31 598.11L335.32 590.26M337.38 598.75L332.39 590.9" stroke="#0096ff"/>
<path d="M412.68 593L386.51 598.75M395.3 596.82L392.83 592.94M392.37 597.47L387.38 589.61M389.44 598.11L384.45 590.26M386.51 598.75L381.52 590.9" stroke="#0096ff"/>
<path d="M461.81 593L435.72 599.12M444.48 597.06L441.96 593.22M441.56 597.75L436.47 589.97M438.64 598.43L433.55 590.65M435.72 599.12L430.63 591.34" stroke="#0096ff"/>
<path d="M510.94 593L485.5 601.41M494.04 598.59L491.19 594.98M491.19 599.53L485.43 592.23M488.34 600.47L482.58 593.17M485.5 601.41L479.73 594.12" stroke="#0070ff"/>
<path d="M560.07 593L534.63 601.41M543.17 598.59L540.32 594.98M540.32 599.53L534.56 592.23M537.47 600.47L531.71 593.17M534.63 601.41L528.86 594.12" stroke="#0070ff"/>
<path d="M609.2 593L585.59 596.02M591.54 595.26L587.28 587M588.57 595.64L584.3 587.38M585.59 596.02L581.33 587.76" stroke="#0070ff"/>
<path d="M658.33 593L634.53 592.58M640.53 592.69L639.04 588.34M637.53 592.64L634.51 583.84M634.53 592.58L631.51 583.79" stroke="#0050ff"/>
<path d="M707.46 593L683.75 590.93M689.73 591.45L688.54 587.01M686.74 591.19L684.33 582.2M683.75 590.93L681.34 581.94" stroke="#0050ff"/>
<path d="M756.59 593L733.12 589.03M739.04 590.03L738.21 585.51M736.08 589.53L734.4 580.38M733.12 589.03L731.44 579.88" stroke="#0050ff"/>
<path d="M805.72 593L785.94 586.57M788.79 587.5L788.47 578.21M785.94 586.57L785.61 577.28" stroke="#0030ff"/>
<path d="M854.85 593L831.97 586.44M837.74 588.09L837.42 583.5M834.86 587.27L834.21 577.99M831.97 586.44L831.32 577.16" stroke="#0030ff"/>
<path d="M903.98 593L885.38 583.69M888.06 585.03L889.13 575.79M885.38 583.69L886.45 574.45" stroke="#0030ff"/>
<path d="M953.11 593L934.54 578.12M939.22 581.87L940.69 577.51M936.88 579.99L939.86 571.19M934.54 578.12L937.52 569.31" stroke="#0030ff"/>
<path d="M117.9 608.5L91.43 612.69M100.32 611.28L95.81 603.15M97.36 611.75L92.85 603.62M94.39 612.22L89.88 604.09M91.43 612.69L86.92 604.56" stroke="#0096ff"/>
<path d="M167.03 608.5L140.92 614.53M149.69 612.5L144.62 604.7M146.76 613.18L141.7 605.38M143.84 613.85L138.77 606.05M140.92 614.53L135.85 606.73" stroke="#00c0ff"/>
<path d="M216.16 608.5L186.91 614.19M198.69 611.9L196.32 607.95M195.74 612.47L190.95 604.5M192.8 613.04L188.01 605.07M189.85 613.61L185.06 605.64M186.91 614.19L182.12 606.21" stroke="#00c0ff"/>
<path d="M265.29 608.5L235.85 613.11M247.7 611.25L245.48 607.23M244.74 611.72L240.25 603.58M241.78 612.18L237.28 604.04M238.81 612.65L234.32 604.5M235.85 613.11L231.35 604.97" stroke="#00c0ff"/>
<path d="M314.42 608.5L287.76 611.21M296.71 610.3L292.66 601.93M293.73 610.6L289.68 602.23M290.74 610.91L286.69 602.53M287.76 611.21L283.71 602.84" stroke="#0096ff"/>
<path d="M363.55 608.5L336.75 608.97M345.75 608.81L344.1 604.52M342.75 608.86L339.42 600.18M339.75 608.92L336.42 600.23M336.75 608.97L333.42 600.29" stroke="#0070ff"/>
<path d="M412.68 608.5L388.88 608.5M394.88 608.5L391.7 599.76M391.88 608.5L388.7 599.76M388.88 608.5L385.7 599.76" stroke="#0070ff"/>
<path d="M461.81 608.5L438.01 608.5M444.01 608.5L440.83 599.76M441.01 608.5L437.83 599.76M438.01 608.5L434.83 599.76" stroke="#0070ff"/>
<path d="M510.94 608.5L487.17 609.75M493.16 609.43L489.53 600.87M490.17 609.59L486.53 601.03M487.17 609.75L483.54 601.18" stroke="#0070ff"/>
<path d="M560.07 608.5L536.53 611.98M542.46 611.1L540.27 607.05M539.49 611.54L535.07 603.36M536.53 611.98L532.1 603.8" stroke="#0050ff"/>
<path d="M609.2 608.5L585.4 608.5M591.4 608.5L588.22 599.76M588.4 608.5L585.22 599.76M585.4 608.5L582.22 599.76" stroke="#0070ff"/>
<path d="M658.33 608.5L634.8 604.94M640.73 605.84L639.82 601.33M637.76 605.39L635.93 596.27M634.8 604.94L632.96 595.82" stroke="#0050ff"/>
<path d="M707.46 608.5L683.9 605.11M689.84 605.96L688.9 601.46M686.87 605.53L684.97 596.43M683.9 605.11L682 596" stroke="#0050ff"/>
<path d="M756.59 608.5L732.97 605.6M738.92 606.33L737.89 601.85M735.95 605.97L733.85 596.9M732.97 605.6L730.88 596.54" stroke="#0050ff"/>
<path d="M805.72 608.5L782.49 603.31M788.35 604.62L787.76 600.06M785.42 603.96L784.22 594.74M782.49 603.31L781.3 594.09" stroke="#0050ff"/>
<path d="M854.85 608.5L831.74 602.82M837.56 604.25L837.07 599.68M834.65 603.54L833.65 594.29M831.74 602.82L830.73 593.58" stroke="#0030ff"/>
<path d="M903.98 608.5L886.02 592.89M890.55 596.82L892.19 592.53M888.28 594.85L891.61 586.17M886.02 592.89L889.35 584.2" stroke="#0030ff"/>
<path d="M953.11 608.5L936.79 591.18M940.9 595.55L942.97 591.44M938.84 593.36L943.02 585.05M936.79 591.18L940.97 582.87" stroke="#0050ff"/>
<path d="M117.9 623.5L91.59 637.49M102.18 631.86L98.77 628.78M99.53 633.27L92.62 627.04M96.89 634.67L89.97 628.45M94.24 636.08L87.33 629.86M91.59 637.49L84.68 631.27" stroke="#00c0ff"/>
<path d="M167.03 623.5L140.25 636.56M151.03 631.3L147.72 628.11M148.34 632.62L141.65 626.16M145.64 633.93L138.95 627.47M142.94 635.25L136.25 628.79M140.25 636.56L133.56 630.1" stroke="#00ffdc"/>
<path d="M216.16 623.5L188.27 633.98M199.5 629.76L196.5 626.27M196.69 630.82L190.64 623.76M193.88 631.87L187.83 624.81M191.07 632.93L185.02 625.87M188.27 633.98L182.21 626.92" stroke="#00ffdc"/>
<path d="M265.29 623.5L246.35 628.93" stroke="#00ffdc"/><path d="M250.68 627.69L246.35 628.93L240.89 621.41Z" fill="#00ffdc" stroke="#00ffdc"/>
<path d="M314.42 623.5L288.13 628.71M296.96 626.96L292.14 619M294.02 627.54L289.2 619.59M291.07 628.12L286.26 620.17M288.13 628.71L283.31 620.75" stroke="#00c0ff"/>
<path d="M363.55 623.5L337.12 627.92M345.99 626.44L343.73 622.43M343.04 626.93L338.46 618.84M340.08 627.43L335.5 619.33M337.12 627.92L332.54 619.83" stroke="#0096ff"/>
<path d="M412.68 623.5L385.9 624.44M394.89 624.12L393.17 619.86M391.89 624.23L388.41 615.6M388.89 624.33L385.41 615.71M385.9 624.44L382.41 615.81" stroke="#0070ff"/>
<path d="M461.81 623.5L438.02 624.33M444.02 624.12L440.54 615.5M441.02 624.23L437.54 615.6M438.02 624.33L434.54 615.71" stroke="#0070ff"/>
<path d="M510.94 623.5L487.15 624.08M493.15 623.93L489.75 615.28M490.15 624.01L486.75 615.35M487.15 624.08L483.75 615.42" stroke="#0070ff"/>
<path d="M560.07 623.5L536.35 625.41M542.33 624.93L538.46 616.47M539.34 625.17L535.47 616.71M536.35 625.41L532.48 616.95" stroke="#0070ff"/>
<path d="M609.2 623.5L585.4 623.5M591.4 623.5L588.22 614.76M588.4 623.5L585.22 614.76M585.4 623.5L582.22 614.76" stroke="#0070ff"/>
<path d="M658.33 623.5L634.58 621.96M640.57 622.35L639.28 617.94M637.57 622.16L634.96 613.23M634.58 621.96L631.97 613.04" stroke="#0050ff"/>
<path d="M707.46 623.5L683.66 623.08M689.66 623.19L688.17 618.84M686.66 623.14L683.64 614.34M683.66 623.08L680.64 614.29" stroke="#0050ff"/>
<path d="M756.59 623.5L732.94 620.85M738.9 621.52L737.82 617.04M735.92 621.18L733.73 612.14M732.94 620.85L730.75 611.81" stroke="#0050ff"/>
<path d="M805.72 623.5L782.02 621.34M787.99 621.89L786.82 617.44M785.01 621.61L782.63 612.62M782.02 621.34L779.64 612.35" stroke="#0050ff"/>
<path d="M854.85 623.5L834.27 620.46M837.24 620.9L835.37 611.79M834.27 620.46L832.4 611.35" stroke="#0030ff"/>
<path d="M903.98 623.5L886.74 607.09M891.09 611.22L892.93 607.01M888.92 609.16L892.64 600.63M886.74 607.09L890.47 598.56" stroke="#0030ff"/>
<path d="M953.11 623.5L937.06 605.92M941.11 610.36L943.24 606.28M939.08 608.14L943.39 599.9M937.06 605.92L941.37 597.68" stroke="#0050ff"/>
<path d="M117.9 637.8L96.64 654.11M103.78 648.64L99.9 646.16M101.4 650.46L93.55 645.47M99.02 652.29L91.17 647.29M96.64 654.11L88.79 649.12" stroke="#0096ff"/>
<path d="M167.03 637.8L145.24 653.4M152.56 648.16L148.76 645.56M150.12 649.91L142.44 644.65M147.68 651.65L140 646.4M145.24 653.4L137.57 648.15" stroke="#0096ff"/>
<path d="M216.16 637.8L194.42 653.48M201.72 648.21L197.92 645.63M199.29 649.97L191.6 644.74M196.86 651.72L189.16 646.49M194.42 653.48L186.73 648.25" stroke="#0096ff"/>
<path d="M265.29 637.8L242.92 652.55M250.43 647.6L246.74 644.86M247.93 649.25L240.46 643.71M245.42 650.9L237.95 645.36M242.92 652.55L235.45 647.01" stroke="#0096ff"/>
<path d="M314.42 637.8L289.81 648.4M298.07 644.84L294.92 641.49M295.32 646.03L288.94 639.26M292.56 647.21L286.18 640.45M289.81 648.4L283.43 641.63" stroke="#0096ff"/>
<path d="M363.55 637.8L339.07 648.7M347.29 645.04L344.09 641.73M344.55 646.26L338.09 639.57M341.81 647.48L335.35 640.79M339.07 648.7L332.61 642.01" stroke="#0096ff"/>
<path d="M412.68 637.8L387.83 647.84M396.18 644.47L393.1 641.05M393.39 645.59L387.17 638.68M390.61 646.72L384.39 639.8M387.83 647.84L381.61 640.93" stroke="#0096ff"/>
<path d="M461.81 637.8L439.67 646.52M445.25 644.32L439.09 637.36M442.46 645.42L436.29 638.46M439.67 646.52L433.5 639.56" stroke="#0070ff"/>
<path d="M510.94 637.8L488.48 645.67M494.14 643.68L488.25 636.49M491.31 644.67L485.42 637.48M488.48 645.67L482.59 638.47" stroke="#0070ff"/>
<path d="M560.07 637.8L536.86 643.07M542.71 641.74L540.22 637.88M539.79 642.41L534.75 634.59M536.86 643.07L531.82 635.26" stroke="#0050ff"/>
<path d="M609.2 637.8L585.46 639.54M591.45 639.1L589.56 634.91M588.46 639.32L584.64 630.84M585.46 639.54L581.65 631.06" stroke="#0050ff"/>
<path d="M658.33 637.8L637.7 640.48M640.68 640.09L636.4 631.84M637.7 640.48L633.42 632.22" stroke="#0030ff"/>
<path d="M707.46 637.8L686.85 640.59M689.82 640.18L685.5 631.95M686.85 640.59L682.52 632.35" stroke="#0030ff"/>
<path d="M756.59 637.8L735.79 637.8M738.79 637.8L735.61 629.06M735.79 637.8L732.61 629.06" stroke="#0030ff"/>
<path d="M805.72 637.8L785.02 639.79M788 639.51L784 631.11M785.02 639.79L781.01 631.4" stroke="#0030ff"/>
<path d="M854.85 637.8L834.05 637.8M837.05 637.8L833.87 629.06M834.05 637.8L830.87 629.06" stroke="#0030ff"/>
<path d="M903.98 637.8L887.15 620.97M891.39 625.21L893.34 621.04M889.27 623.09L893.2 614.66M887.15 620.97L891.08 612.54" stroke="#0030ff"/>
<path d="M953.11 637.8L937.18 620.11M941.2 624.57L943.36 620.51M939.19 622.34L943.56 614.13M937.18 620.11L941.55 611.9" stroke="#0050ff"/>
</g>
<rect x="70" y="45" width="883.8" height="632.8" fill="none" stroke="#000" stroke-width="2"/>
<path d="M60 45H69M60 130.08H69M60 199.6H69M60 258.38H69M60 309.3H69M60 354.21H69M60 394.38H69M60 430.72H69M60 463.9H69M60 494.42H69M60 522.68H69M60 548.99H69M60 573.59H69M60 596.71H69M60 618.5H69M60 639.12H69M60 658.68H69M119 679V683.5M266.33 679V683.5M413.66 679V683.5M560.99 679V683.5M708.32 679V683.5M855.65 679V683.5" stroke="#555" stroke-width="1.4" fill="none"/>
<g><path d="M959.6 102.7L968.05 84.4L976.5 102.7Z" fill="#000" stroke="#000" stroke-width="1"/><rect x="959.6" y="102.7" width="16.9" height="17.83" fill="#ff00ff"/><rect x="959.6" y="120.53" width="16.9" height="17.83" fill="#f000dc"/><rect x="959.6" y="138.37" width="16.9" height="17.83" fill="#f00078"/><rect x="959.6" y="156.2" width="16.9" height="17.83" fill="#f5005a"/><rect x="959.6" y="174.03" width="16.9" height="17.83" fill="#fa0046"/><rect x="959.6" y="191.87" width="16.9" height="17.83" fill="#ff0030"/><rect x="959.6" y="209.7" width="16.9" height="17.83" fill="#ff0000"/><rect x="959.6" y="227.53" width="16.9" height="17.83" fill="#ff3c00"/><rect x="959.6" y="245.36" width="16.9" height="17.83" fill="#ff6400"/><rect x="959.6" y="263.2" width="16.9" height="17.83" fill="#ff8200"/><rect x="959.6" y="281.03" width="16.9" height="17.83" fill="#ff9600"/><rect x="959.6" y="298.86" width="16.9" height="17.83" fill="#ffb400"/><rect x="959.6" y="316.7" width="16.9" height="17.83" fill="#ffd700"/><rect x="959.6" y="334.53" width="16.9" height="17.83" fill="#ffff00"/><rect x="959.6" y="352.36" width="16.9" height="17.83" fill="#e6ff00"/><rect x="959.6" y="370.19" width="16.9" height="17.83" fill="#8cff00"/><rect x="959.6" y="388.03" width="16.9" height="17.83" fill="#50ff00"/><rect x="959.6" y="405.86" width="16.9" height="17.83" fill="#00ff48"/><rect x="959.6" y="423.69" width="16.9" height="17.83" fill="#00fa80"/><rect x="959.6" y="441.53" width="16.9" height="17.83" fill="#00faa0"/><rect x="959.6" y="459.36" width="16.9" height="17.83" fill="#00ffdc"/><rect x="959.6" y="477.19" width="16.9" height="17.83" fill="#00c0ff"/><rect x="959.6" y="495.03" width="16.9" height="17.83" fill="#0096ff"/><rect x="959.6" y="512.86" width="16.9" height="17.83" fill="#0070ff"/><rect x="959.6" y="530.69" width="16.9" height="17.83" fill="#0050ff"/><rect x="959.6" y="548.52" width="16.9" height="17.83" fill="#0030ff"/><rect x="959.6" y="566.36" width="16.9" height="17.83" fill="#0000ff"/><rect x="959.6" y="584.19" width="16.9" height="17.83" fill="#4600ff"/><rect x="959.6" y="602.02" width="16.9" height="17.83" fill="#6a00ff"/><path d="M959.6 619.86L968.05 638.2L976.5 619.86Z" fill="#8200ff"/><path d="M959.6 102.7V619.86H976.5V102.7M959.6 102.7H976.5M959.6 120.53H976.5M959.6 138.37H976.5M959.6 156.2H976.5M959.6 174.03H976.5M959.6 191.87H976.5M959.6 209.7H976.5M959.6 227.53H976.5M959.6 245.36H976.5M959.6 263.2H976.5M959.6 281.03H976.5M959.6 298.86H976.5M959.6 316.7H976.5M959.6 334.53H976.5M959.6 352.36H976.5M959.6 370.19H976.5M959.6 388.03H976.5M959.6 405.86H976.5M959.6 423.69H976.5M959.6 441.53H976.5M959.6 459.36H976.5M959.6 477.19H976.5M959.6 495.03H976.5M959.6 512.86H976.5M959.6 530.69H976.5M959.6 548.52H976.5M959.6 566.36H976.5M959.6 584.19H976.5M959.6 602.02H976.5M959.6 619.86H976.5M959.6 619.86L968.05 638.2L976.5 619.86" fill="none" stroke="#000" stroke-width="1.5" stroke-linejoin="miter"/></g>
<text x="100.68" y="29.4" font-family="DejaVu Sans" font-weight="200" font-size="30.7" fill="#000" stroke="#000" stroke-width="0.5" textLength="187.75" lengthAdjust="spacingAndGlyphs">2026011323</text>
<text x="302.67" y="29.4" font-family="DejaVu Sans" font-weight="200" font-size="30.7" fill="#000" stroke="#000" stroke-width="0.5" textLength="78.99" lengthAdjust="spacingAndGlyphs">HRRR</text>
<text x="401.95" y="29.4" font-family="DejaVu Sans" font-weight="200" font-size="30.7" fill="#000" stroke="#000" stroke-width="0.5" textLength="117.5" lengthAdjust="spacingAndGlyphs">forecast</text>
<text x="536.79" y="29.4" font-family="DejaVu Sans" font-weight="200" font-size="30.7" fill="#000" stroke="#000" stroke-width="0.5" textLength="62.17" lengthAdjust="spacingAndGlyphs">wind</text>
<text x="613.52" y="29.4" font-family="DejaVu Sans" font-weight="200" font-size="30.7" fill="#000" stroke="#000" stroke-width="0.5" textLength="92.93" lengthAdjust="spacingAndGlyphs">profile</text>
<text x="722.15" y="29.4" font-family="DejaVu Sans" font-weight="200" font-size="30.7" fill="#000" stroke="#000" stroke-width="0.5" textLength="52.85" lengthAdjust="spacingAndGlyphs">(kt)</text>
<text x="791.85" y="29.4" font-family="DejaVu Sans" font-weight="200" font-size="30.7" fill="#000" stroke="#000" stroke-width="0.5" textLength="40.04" lengthAdjust="spacingAndGlyphs">for</text>
<text x="847.56" y="29.4" font-family="DejaVu Sans" font-weight="200" font-size="30.7" fill="#000" stroke="#000" stroke-width="0.5" textLength="72.89" lengthAdjust="spacingAndGlyphs">KFDY</text>
<text x="19.24" y="52" font-family="DejaVu Sans" font-weight="200" font-size="18.9" fill="#000" stroke="#000" stroke-width="0.4" textLength="41.75" lengthAdjust="spacingAndGlyphs">200</text>
<text x="19.24" y="137.08" font-family="DejaVu Sans" font-weight="200" font-size="18.9" fill="#000" stroke="#000" stroke-width="0.4" textLength="41.75" lengthAdjust="spacingAndGlyphs">250</text>
<text x="19.24" y="206.6" font-family="DejaVu Sans" font-weight="200" font-size="18.9" fill="#000" stroke="#000" stroke-width="0.4" textLength="41.75" lengthAdjust="spacingAndGlyphs">300</text>
<text x="19.24" y="265.38" font-family="DejaVu Sans" font-weight="200" font-size="18.9" fill="#000" stroke="#000" stroke-width="0.4" textLength="41.75" lengthAdjust="spacingAndGlyphs">350</text>
<text x="19.24" y="316.3" font-family="DejaVu Sans" font-weight="200" font-size="18.9" fill="#000" stroke="#000" stroke-width="0.4" textLength="41.75" lengthAdjust="spacingAndGlyphs">400</text>
<text x="19.24" y="361.21" font-family="DejaVu Sans" font-weight="200" font-size="18.9" fill="#000" stroke="#000" stroke-width="0.4" textLength="41.75" lengthAdjust="spacingAndGlyphs">450</text>
<text x="18.01" y="401.38" font-family="DejaVu Sans" font-weight="200" font-size="18.9" fill="#000" stroke="#000" stroke-width="0.4" textLength="43.05" lengthAdjust="spacingAndGlyphs">500</text>
<text x="18.01" y="437.72" font-family="DejaVu Sans" font-weight="200" font-size="18.9" fill="#000" stroke="#000" stroke-width="0.4" textLength="43.05" lengthAdjust="spacingAndGlyphs">550</text>
<text x="18.01" y="470.9" font-family="DejaVu Sans" font-weight="200" font-size="18.9" fill="#000" stroke="#000" stroke-width="0.4" textLength="43.05" lengthAdjust="spacingAndGlyphs">600</text>
<text x="18.01" y="501.42" font-family="DejaVu Sans" font-weight="200" font-size="18.9" fill="#000" stroke="#000" stroke-width="0.4" textLength="43.05" lengthAdjust="spacingAndGlyphs">650</text>
<text x="18.01" y="529.68" font-family="DejaVu Sans" font-weight="200" font-size="18.9" fill="#000" stroke="#000" stroke-width="0.4" textLength="43.05" lengthAdjust="spacingAndGlyphs">700</text>
<text x="18.01" y="555.99" font-family="DejaVu Sans" font-weight="200" font-size="18.9" fill="#000" stroke="#000" stroke-width="0.4" textLength="43.05" lengthAdjust="spacingAndGlyphs">750</text>
<text x="18.01" y="580.59" font-family="DejaVu Sans" font-weight="200" font-size="18.9" fill="#000" stroke="#000" stroke-width="0.4" textLength="43.05" lengthAdjust="spacingAndGlyphs">800</text>
<text x="18.01" y="603.71" font-family="DejaVu Sans" font-weight="200" font-size="18.9" fill="#000" stroke="#000" stroke-width="0.4" textLength="43.05" lengthAdjust="spacingAndGlyphs">850</text>
<text x="18.01" y="625.5" font-family="DejaVu Sans" font-weight="200" font-size="18.9" fill="#000" stroke="#000" stroke-width="0.4" textLength="43.05" lengthAdjust="spacingAndGlyphs">900</text>
<text x="18.01" y="646.12" font-family="DejaVu Sans" font-weight="200" font-size="18.9" fill="#000" stroke="#000" stroke-width="0.4" textLength="43.05" lengthAdjust="spacingAndGlyphs">950</text>
<text x="5.91" y="665.68" font-family="DejaVu Sans" font-weight="200" font-size="18.9" fill="#000" stroke="#000" stroke-width="0.4" textLength="55.07" lengthAdjust="spacingAndGlyphs">1000</text>
<text x="101.16" y="700.9" font-family="DejaVu Sans" font-weight="200" font-size="18.9" fill="#000" stroke="#000" stroke-width="0.4" textLength="33.94" lengthAdjust="spacingAndGlyphs">00Z</text>
<text x="248.33" y="700.9" font-family="DejaVu Sans" font-weight="200" font-size="18.9" fill="#000" stroke="#000" stroke-width="0.4" textLength="34.59" lengthAdjust="spacingAndGlyphs">03Z</text>
<text x="395.32" y="700.9" font-family="DejaVu Sans" font-weight="200" font-size="18.9" fill="#000" stroke="#000" stroke-width="0.4" textLength="34.7" lengthAdjust="spacingAndGlyphs">06Z</text>
<text x="543.15" y="700.9" font-family="DejaVu Sans" font-weight="200" font-size="18.9" fill="#000" stroke="#000" stroke-width="0.4" textLength="34.26" lengthAdjust="spacingAndGlyphs">09Z</text>
<text x="691.72" y="700.9" font-family="DejaVu Sans" font-weight="200" font-size="18.9" fill="#000" stroke="#000" stroke-width="0.4" textLength="32.85" lengthAdjust="spacingAndGlyphs">12Z</text>
<text x="838.74" y="700.9" font-family="DejaVu Sans" font-weight="200" font-size="18.9" fill="#000" stroke="#000" stroke-width="0.4" textLength="34.37" lengthAdjust="spacingAndGlyphs">15Z</text>
<text x="92.68" y="719.9" font-family="DejaVu Sans" font-weight="200" font-size="18.9" fill="#000" stroke="#000" stroke-width="0.4" textLength="54.07" lengthAdjust="spacingAndGlyphs">14JAN</text>
<text x="97.07" y="739" font-family="DejaVu Sans" font-weight="200" font-size="18.9" fill="#000" stroke="#000" stroke-width="0.4" textLength="44.87" lengthAdjust="spacingAndGlyphs">2026</text>
<text x="355.97" y="759.5" font-family="DejaVu Sans" font-weight="400" font-size="27" fill="#000" stroke="#000" stroke-width="0.35" textLength="126.7" lengthAdjust="spacingAndGlyphs">Forecast</text>
<text x="501.7" y="759.5" font-family="DejaVu Sans" font-weight="400" font-size="27" fill="#000" stroke="#000" stroke-width="0.35" textLength="64.35" lengthAdjust="spacingAndGlyphs">Time</text>
<text x="583.89" y="759.5" font-family="DejaVu Sans" font-weight="400" font-size="27" fill="#000" stroke="#000" stroke-width="0.35" textLength="82.48" lengthAdjust="spacingAndGlyphs">(UTC)</text>
<text x="825.92" y="760.5" font-family="DejaVu Sans" font-weight="200" font-size="17" fill="#f03c3c" stroke="#f03c3c" stroke-width="0.3" textLength="189.57" lengthAdjust="spacingAndGlyphs">coolwx.com/modelts</text>
<text x="981.67" y="108.9" font-family="Liberation Sans" font-weight="400" font-size="15.6" fill="#000" textLength="29.39" lengthAdjust="spacingAndGlyphs">150</text>
<text x="981.67" y="126.73" font-family="Liberation Sans" font-weight="400" font-size="15.6" fill="#000" textLength="29.39" lengthAdjust="spacingAndGlyphs">145</text>
<text x="981.67" y="144.57" font-family="Liberation Sans" font-weight="400" font-size="15.6" fill="#000" textLength="29.39" lengthAdjust="spacingAndGlyphs">140</text>
<text x="981.67" y="162.4" font-family="Liberation Sans" font-weight="400" font-size="15.6" fill="#000" textLength="29.39" lengthAdjust="spacingAndGlyphs">135</text>
<text x="981.67" y="180.23" font-family="Liberation Sans" font-weight="400" font-size="15.6" fill="#000" textLength="29.39" lengthAdjust="spacingAndGlyphs">130</text>
<text x="981.67" y="198.06" font-family="Liberation Sans" font-weight="400" font-size="15.6" fill="#000" textLength="29.39" lengthAdjust="spacingAndGlyphs">125</text>
<text x="981.67" y="215.9" font-family="Liberation Sans" font-weight="400" font-size="15.6" fill="#000" textLength="29.39" lengthAdjust="spacingAndGlyphs">120</text>
<text x="981.62" y="233.73" font-family="Liberation Sans" font-weight="400" font-size="15.6" fill="#000" textLength="29.31" lengthAdjust="spacingAndGlyphs">115</text>
<text x="981.62" y="251.56" font-family="Liberation Sans" font-weight="400" font-size="15.6" fill="#000" textLength="29.31" lengthAdjust="spacingAndGlyphs">110</text>
<text x="981.67" y="269.4" font-family="Liberation Sans" font-weight="400" font-size="15.6" fill="#000" textLength="29.39" lengthAdjust="spacingAndGlyphs">105</text>
<text x="981.67" y="287.23" font-family="Liberation Sans" font-weight="400" font-size="15.6" fill="#000" textLength="29.39" lengthAdjust="spacingAndGlyphs">100</text>
<text x="980.31" y="305.06" font-family="Liberation Sans" font-weight="400" font-size="15.6" fill="#000" textLength="18.88" lengthAdjust="spacingAndGlyphs">95</text>
<text x="980.31" y="322.9" font-family="Liberation Sans" font-weight="400" font-size="15.6" fill="#000" textLength="18.88" lengthAdjust="spacingAndGlyphs">90</text>
<text x="980.31" y="340.73" font-family="Liberation Sans" font-weight="400" font-size="15.6" fill="#000" textLength="18.88" lengthAdjust="spacingAndGlyphs">85</text>
<text x="980.31" y="358.56" font-family="Liberation Sans" font-weight="400" font-size="15.6" fill="#000" textLength="18.88" lengthAdjust="spacingAndGlyphs">80</text>
<text x="980.31" y="376.39" font-family="Liberation Sans" font-weight="400" font-size="15.6" fill="#000" textLength="18.88" lengthAdjust="spacingAndGlyphs">75</text>
<text x="980.31" y="394.23" font-family="Liberation Sans" font-weight="400" font-size="15.6" fill="#000" textLength="18.88" lengthAdjust="spacingAndGlyphs">70</text>
<text x="980.31" y="412.06" font-family="Liberation Sans" font-weight="400" font-size="15.6" fill="#000" textLength="18.88" lengthAdjust="spacingAndGlyphs">65</text>
<text x="980.31" y="429.89" font-family="Liberation Sans" font-weight="400" font-size="15.6" fill="#000" textLength="18.88" lengthAdjust="spacingAndGlyphs">60</text>
<text x="980.31" y="447.73" font-family="Liberation Sans" font-weight="400" font-size="15.6" fill="#000" textLength="18.88" lengthAdjust="spacingAndGlyphs">55</text>
<text x="980.31" y="465.56" font-family="Liberation Sans" font-weight="400" font-size="15.6" fill="#000" textLength="18.88" lengthAdjust="spacingAndGlyphs">50</text>
<text x="981.4" y="483.39" font-family="Liberation Sans" font-weight="400" font-size="15.6" fill="#000" textLength="17.77" lengthAdjust="spacingAndGlyphs">45</text>
<text x="981.4" y="501.23" font-family="Liberation Sans" font-weight="400" font-size="15.6" fill="#000" textLength="17.77" lengthAdjust="spacingAndGlyphs">40</text>
<text x="980.31" y="519.06" font-family="Liberation Sans" font-weight="400" font-size="15.6" fill="#000" textLength="18.88" lengthAdjust="spacingAndGlyphs">35</text>
<text x="980.31" y="536.89" font-family="Liberation Sans" font-weight="400" font-size="15.6" fill="#000" textLength="18.88" lengthAdjust="spacingAndGlyphs">30</text>
<text x="980.31" y="554.73" font-family="Liberation Sans" font-weight="400" font-size="15.6" fill="#000" textLength="18.88" lengthAdjust="spacingAndGlyphs">25</text>
<text x="980.31" y="572.56" font-family="Liberation Sans" font-weight="400" font-size="15.6" fill="#000" textLength="18.88" lengthAdjust="spacingAndGlyphs">20</text>
<text x="981.71" y="590.39" font-family="Liberation Sans" font-weight="400" font-size="15.6" fill="#000" textLength="18.88" lengthAdjust="spacingAndGlyphs">15</text>
<text x="981.71" y="608.22" font-family="Liberation Sans" font-weight="400" font-size="15.6" fill="#000" textLength="18.88" lengthAdjust="spacingAndGlyphs">10</text>
<text x="980.17" y="626.06" font-family="Liberation Sans" font-weight="400" font-size="15.6" fill="#000" textLength="10.67" lengthAdjust="spacingAndGlyphs">5</text>
</svg></body></html>
